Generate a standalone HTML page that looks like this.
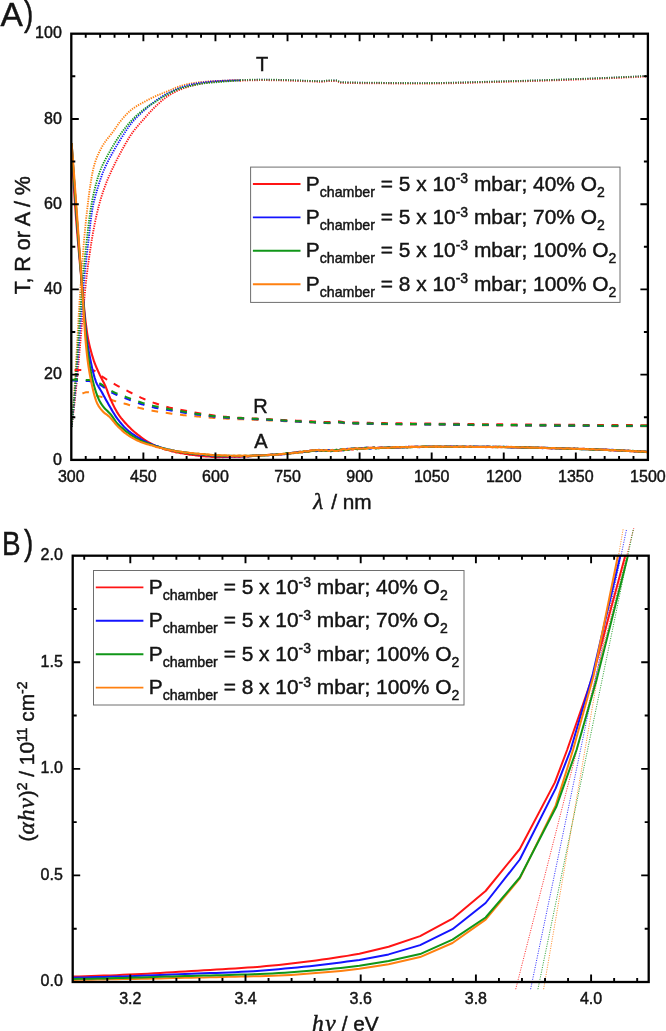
<!DOCTYPE html>
<html lang="en"><head><meta charset="utf-8"><title>Optical spectra and Tauc plot</title>
<style>html,body{margin:0;padding:0;background:#fff}body{width:666px;height:1031px;overflow:hidden}svg{display:block;will-change:transform}text{font-family:'Liberation Sans', Arial, Helvetica, sans-serif;fill:#141414;stroke:#141414;stroke-width:0.45px}.tk{font-size:16px}.lg{font-size:20.9px}.ax{font-size:20.8px}.sym{font-family:'Liberation Serif', 'DejaVu Serif', serif;font-style:italic}</style></head><body>
<svg width="666" height="1031" viewBox="0 0 666 1031">
<rect x="0" y="0" width="666" height="1031" fill="#fff"/>
<defs><clipPath id="clipA"><rect x="71.3" y="33.7" width="577.6" height="426.2"/></clipPath><clipPath id="clipB"><rect x="72.7" y="555.7" width="577" height="426.3"/></clipPath></defs>
<g id="panelA">
<g clip-path="url(#clipA)" fill="none" stroke-linejoin="round">
<path d="M71.6,427 L71.72,425.5 L71.84,423.99 L71.97,422.49 L72.09,420.99 L72.21,419.48 L72.33,417.98 L72.45,416.48 L72.57,414.97 L72.69,413.47 L72.81,411.96 L72.92,410.46 L73.04,408.96 L73.15,407.45 L73.27,405.95 L73.38,404.45 L73.49,402.94 L73.6,401.44 L73.71,399.93 L73.82,398.43 L73.93,396.92 L74.03,395.42 L74.14,393.92 L74.24,392.41 L74.34,390.91 L74.44,389.4 L74.54,387.9 L74.64,386.39 L74.73,384.89 L74.83,383.38 L74.92,381.88 L75.02,380.37 L75.11,378.87 L75.2,377.36 L75.29,375.85 L75.38,374.35 L75.47,372.84 L75.56,371.34 L75.65,369.83 L75.74,368.33 L75.82,366.82 L75.91,365.32 L76,363.81 L76.08,362.3 L76.17,360.8 L76.25,359.29 L76.33,357.79 L76.42,356.28 L76.5,354.77 L76.59,353.27 L76.67,351.76 L76.75,350.26 L76.83,348.75 L76.92,347.24 L77,345.74 L77.08,344.23 L77.17,342.73 L77.25,341.22 L77.33,339.71 L77.41,338.21 L77.5,336.7 L77.58,335.19 L77.67,333.69 L77.75,332.18 L77.83,330.68 L77.92,329.17 L78,327.66 L78.09,326.16 L78.18,324.65 L78.26,323.15 L78.35,321.64 L78.44,320.14 L78.53,318.63 L78.61,317.12 L78.7,315.62 L78.79,314.11 L78.89,312.61 L78.98,311.1 L79.07,309.6 L79.17,308.09 L79.26,306.59 L79.36,305.08 L79.45,303.58 L79.55,302.07 L79.65,300.57 L79.75,299.06 L79.85,297.56 L79.95,296.05 L80.06,294.55 L80.16,293.04 L80.26,291.54 L80.37,290.03 L80.47,288.53 L80.58,287.02 L80.69,285.52 L80.79,284.01 L80.9,282.51 L81.01,281.01 L81.11,279.5 L81.22,278 L81.33,276.49 L81.44,274.99 L81.54,273.48 L81.65,271.98 L81.75,270.47 L81.86,268.97 L81.97,267.46 L82.07,265.96 L82.18,264.46 L82.29,262.95 L82.4,261.45 L82.5,259.94 L82.62,258.44 L82.73,256.93 L82.84,255.43 L82.95,253.93 L83.07,252.42 L83.19,250.92 L83.3,249.41 L83.42,247.91 L83.55,246.41 L83.67,244.91 L83.8,243.4 L83.93,241.9 L84.06,240.4 L84.19,238.9 L84.33,237.39 L84.47,235.89 L84.6,234.39 L84.75,232.89 L84.89,231.39 L85.03,229.88 L85.18,228.38 L85.33,226.88 L85.48,225.38 L85.63,223.88 L85.78,222.38 L85.94,220.88 L86.1,219.38 L86.26,217.88 L86.42,216.38 L86.58,214.88 L86.75,213.38 L86.91,211.88 L87.08,210.38 L87.26,208.89 L87.43,207.39 L87.6,205.89 L87.78,204.39 L87.96,202.89 L88.14,201.39 L88.32,199.9 L88.51,198.4 L88.7,196.9 L88.89,195.4 L89.09,193.91 L89.29,192.41 L89.5,190.92 L89.71,189.43 L89.93,187.93 L90.15,186.44 L90.38,184.95 L90.61,183.46 L90.85,181.98 L91.1,180.49 L91.35,178.99 L91.6,177.5 L91.87,176.01 L92.14,174.51 L92.42,173.02 L92.72,171.54 L93.04,170.06 L93.37,168.6 L93.72,167.14 L94.09,165.69 L94.48,164.26 L94.91,162.82 L95.38,161.39 L95.89,159.97 L96.43,158.55 L96.99,157.13 L97.59,155.73 L98.21,154.33 L98.85,152.95 L99.51,151.58 L100.19,150.22 L100.88,148.89 L101.58,147.56 L102.29,146.26 L103.04,144.99 L103.84,143.73 L104.68,142.49 L105.55,141.27 L106.46,140.06 L107.39,138.86 L108.33,137.67 L109.28,136.48 L110.23,135.29 L111.18,134.1 L112.12,132.91 L113.05,131.7 L113.95,130.49 L114.82,129.26 L115.67,128 L116.51,126.74 L117.34,125.48 L118.19,124.23 L119.07,123.01 L119.98,121.82 L120.93,120.66 L121.89,119.49 L122.87,118.33 L123.87,117.17 L124.89,116.04 L125.93,114.92 L126.99,113.82 L128.06,112.75 L129.16,111.72 L130.28,110.72 L131.41,109.77 L132.58,108.86 L133.78,107.99 L135.02,107.15 L136.3,106.35 L137.6,105.57 L138.92,104.8 L140.25,104.06 L141.58,103.32 L142.91,102.59 L144.24,101.87 L145.56,101.15 L146.89,100.44 L148.23,99.75 L149.58,99.06 L150.93,98.39 L152.29,97.73 L153.65,97.08 L155.02,96.45 L156.39,95.83 L157.77,95.22 L159.16,94.64 L160.56,94.07 L161.96,93.51 L163.36,92.95 L164.76,92.4 L166.17,91.84 L167.57,91.28 L168.96,90.7 L170.35,90.1 L171.74,89.49 L173.12,88.88 L174.51,88.27 L175.9,87.69 L177.3,87.13 L178.71,86.62 L180.14,86.16 L181.58,85.73 L183.03,85.32 L184.49,84.93 L185.95,84.55 L187.43,84.2 L188.91,83.88 L190.39,83.59 L191.87,83.32 L193.35,83.08 L194.84,82.86 L196.34,82.65 L197.83,82.45 L199.33,82.27 L200.83,82.1 L202.34,81.95 L203.84,81.81 L205.34,81.69 L206.84,81.57 L208.35,81.46 L209.85,81.36 L211.36,81.26 L212.87,81.17 L214.37,81.09 L215.88,81.01 L217.39,80.95 L218.89,80.88 L220.4,80.83 L221.91,80.77 L223.41,80.71 L224.92,80.66 L226.43,80.6 L227.93,80.56 L229.44,80.51 L230.95,80.47 L232.46,80.43 L233.97,80.39 L235.47,80.36 L236.98,80.33 L238.49,80.31 L240,80.3" stroke="#ff8010" stroke-width="1.85" stroke-dasharray="1.3 1.1"/>
<path d="M71.6,427 L71.79,425.5 L71.97,424.01 L72.16,422.51 L72.34,421.01 L72.53,419.52 L72.71,418.02 L72.89,416.52 L73.08,415.03 L73.26,413.53 L73.44,412.03 L73.62,410.54 L73.8,409.04 L73.97,407.54 L74.15,406.04 L74.32,404.55 L74.49,403.05 L74.66,401.55 L74.83,400.05 L75,398.55 L75.16,397.06 L75.33,395.56 L75.49,394.06 L75.65,392.56 L75.8,391.06 L75.96,389.56 L76.11,388.06 L76.27,386.56 L76.42,385.06 L76.57,383.56 L76.72,382.06 L76.86,380.56 L77.01,379.06 L77.16,377.56 L77.3,376.06 L77.44,374.56 L77.59,373.06 L77.73,371.56 L77.87,370.06 L78.01,368.56 L78.15,367.06 L78.29,365.55 L78.42,364.05 L78.56,362.55 L78.7,361.05 L78.83,359.55 L78.97,358.05 L79.1,356.54 L79.24,355.04 L79.37,353.54 L79.5,352.04 L79.64,350.54 L79.77,349.03 L79.9,347.53 L80.03,346.03 L80.17,344.53 L80.3,343.03 L80.43,341.52 L80.56,340.02 L80.69,338.52 L80.83,337.02 L80.96,335.52 L81.09,334.01 L81.22,332.51 L81.36,331.01 L81.49,329.51 L81.62,328.01 L81.76,326.5 L81.89,325 L82.03,323.5 L82.16,322 L82.3,320.5 L82.43,319 L82.57,317.49 L82.71,315.99 L82.85,314.49 L82.99,312.99 L83.13,311.49 L83.27,309.99 L83.41,308.49 L83.55,306.99 L83.7,305.49 L83.84,303.98 L83.98,302.48 L84.13,300.98 L84.27,299.48 L84.41,297.98 L84.55,296.48 L84.7,294.98 L84.84,293.48 L84.98,291.98 L85.13,290.47 L85.27,288.97 L85.42,287.47 L85.58,285.97 L85.73,284.47 L85.89,282.97 L86.05,281.48 L86.21,279.98 L86.38,278.48 L86.55,276.98 L86.73,275.49 L86.91,273.99 L87.09,272.49 L87.28,271 L87.47,269.5 L87.66,268 L87.86,266.51 L88.06,265.02 L88.26,263.52 L88.47,262.03 L88.68,260.53 L88.89,259.04 L89.1,257.55 L89.32,256.06 L89.54,254.56 L89.76,253.07 L89.98,251.58 L90.2,250.09 L90.43,248.6 L90.65,247.11 L90.89,245.62 L91.12,244.13 L91.36,242.64 L91.6,241.15 L91.84,239.66 L92.09,238.17 L92.34,236.68 L92.59,235.2 L92.85,233.71 L93.12,232.23 L93.39,230.74 L93.66,229.26 L93.94,227.78 L94.22,226.3 L94.51,224.83 L94.81,223.35 L95.11,221.87 L95.41,220.39 L95.73,218.92 L96.05,217.44 L96.37,215.96 L96.7,214.49 L97.04,213.02 L97.39,211.55 L97.75,210.09 L98.11,208.62 L98.48,207.16 L98.86,205.7 L99.24,204.25 L99.64,202.8 L100.04,201.35 L100.47,199.9 L100.9,198.46 L101.34,197.02 L101.8,195.58 L102.26,194.14 L102.74,192.71 L103.23,191.28 L103.72,189.85 L104.22,188.42 L104.74,187 L105.26,185.59 L105.78,184.18 L106.32,182.77 L106.86,181.37 L107.42,179.98 L108,178.58 L108.59,177.2 L109.19,175.82 L109.81,174.44 L110.43,173.06 L111.07,171.69 L111.71,170.32 L112.35,168.96 L113,167.6 L113.66,166.24 L114.31,164.88 L114.97,163.52 L115.63,162.17 L116.3,160.82 L116.98,159.47 L117.67,158.13 L118.36,156.79 L119.06,155.45 L119.76,154.12 L120.48,152.79 L121.2,151.46 L121.92,150.14 L122.65,148.82 L123.38,147.5 L124.12,146.18 L124.86,144.86 L125.61,143.55 L126.36,142.23 L127.12,140.93 L127.9,139.63 L128.69,138.34 L129.49,137.07 L130.3,135.8 L131.13,134.55 L131.98,133.32 L132.86,132.11 L133.76,130.91 L134.68,129.72 L135.62,128.55 L136.58,127.38 L137.56,126.23 L138.55,125.08 L139.54,123.94 L140.54,122.8 L141.55,121.67 L142.55,120.54 L143.55,119.41 L144.55,118.28 L145.54,117.15 L146.54,116.01 L147.54,114.88 L148.55,113.75 L149.56,112.63 L150.58,111.52 L151.61,110.41 L152.65,109.32 L153.71,108.24 L154.77,107.18 L155.85,106.14 L156.94,105.11 L158.05,104.08 L159.17,103.06 L160.3,102.04 L161.44,101.04 L162.6,100.05 L163.77,99.1 L164.96,98.17 L166.16,97.27 L167.39,96.41 L168.63,95.59 L169.89,94.79 L171.19,94.02 L172.5,93.26 L173.83,92.53 L175.18,91.82 L176.54,91.15 L177.91,90.51 L179.29,89.9 L180.67,89.33 L182.06,88.78 L183.48,88.25 L184.9,87.74 L186.34,87.26 L187.78,86.8 L189.23,86.36 L190.68,85.95 L192.13,85.57 L193.59,85.2 L195.06,84.85 L196.53,84.51 L198.01,84.19 L199.49,83.89 L200.97,83.61 L202.46,83.35 L203.94,83.11 L205.43,82.89 L206.92,82.67 L208.42,82.47 L209.91,82.27 L211.41,82.09 L212.91,81.92 L214.41,81.76 L215.92,81.61 L217.42,81.48 L218.92,81.37 L220.42,81.26 L221.92,81.15 L223.43,81.05 L224.93,80.95 L226.43,80.85 L227.94,80.76 L229.44,80.68 L230.95,80.6 L232.46,80.52 L233.96,80.46 L235.47,80.4 L236.98,80.36 L238.49,80.32 L240,80.3" stroke="#ff1414" stroke-width="1.85" stroke-dasharray="1.3 1.1"/>
<path d="M71.6,427 L71.76,425.5 L71.92,424 L72.07,422.5 L72.23,421 L72.39,419.51 L72.54,418.01 L72.7,416.51 L72.85,415.01 L73.01,413.51 L73.16,412.01 L73.31,410.51 L73.46,409.01 L73.61,407.51 L73.76,406.01 L73.91,404.51 L74.06,403.01 L74.2,401.51 L74.35,400.01 L74.49,398.51 L74.63,397.01 L74.77,395.51 L74.91,394.01 L75.04,392.51 L75.18,391.01 L75.31,389.51 L75.45,388.01 L75.58,386.51 L75.71,385.01 L75.84,383.51 L75.97,382 L76.09,380.5 L76.22,379 L76.35,377.5 L76.47,376 L76.59,374.5 L76.72,373 L76.84,371.49 L76.96,369.99 L77.08,368.49 L77.21,366.99 L77.33,365.49 L77.45,363.98 L77.56,362.48 L77.68,360.98 L77.8,359.48 L77.92,357.97 L78.04,356.47 L78.15,354.97 L78.27,353.47 L78.39,351.96 L78.5,350.46 L78.62,348.96 L78.73,347.46 L78.85,345.95 L78.96,344.45 L79.08,342.95 L79.19,341.45 L79.31,339.94 L79.42,338.44 L79.54,336.94 L79.65,335.43 L79.77,333.93 L79.88,332.43 L80,330.93 L80.12,329.42 L80.23,327.92 L80.35,326.42 L80.46,324.92 L80.58,323.41 L80.7,321.91 L80.82,320.41 L80.93,318.91 L81.05,317.4 L81.17,315.9 L81.29,314.4 L81.41,312.9 L81.53,311.4 L81.65,309.89 L81.77,308.39 L81.9,306.89 L82.02,305.39 L82.14,303.89 L82.27,302.38 L82.39,300.88 L82.51,299.38 L82.63,297.88 L82.75,296.37 L82.87,294.87 L82.99,293.37 L83.12,291.87 L83.24,290.37 L83.36,288.86 L83.49,287.36 L83.62,285.86 L83.75,284.36 L83.88,282.86 L84.02,281.36 L84.15,279.86 L84.29,278.36 L84.44,276.86 L84.59,275.36 L84.74,273.86 L84.89,272.36 L85.05,270.86 L85.21,269.36 L85.37,267.87 L85.53,266.37 L85.7,264.87 L85.87,263.37 L86.04,261.88 L86.21,260.38 L86.38,258.88 L86.56,257.38 L86.73,255.89 L86.91,254.39 L87.08,252.89 L87.26,251.4 L87.43,249.9 L87.61,248.4 L87.79,246.91 L87.96,245.41 L88.14,243.91 L88.31,242.42 L88.49,240.92 L88.65,239.42 L88.82,237.92 L88.98,236.42 L89.14,234.92 L89.3,233.41 L89.46,231.91 L89.63,230.41 L89.79,228.91 L89.95,227.41 L90.12,225.91 L90.29,224.41 L90.47,222.91 L90.65,221.41 L90.83,219.91 L91.02,218.42 L91.22,216.93 L91.43,215.44 L91.64,213.95 L91.86,212.46 L92.09,210.98 L92.33,209.5 L92.58,208.02 L92.86,206.55 L93.15,205.07 L93.47,203.6 L93.8,202.13 L94.16,200.67 L94.52,199.2 L94.91,197.74 L95.3,196.28 L95.7,194.82 L96.12,193.37 L96.53,191.92 L96.96,190.47 L97.38,189.02 L97.81,187.58 L98.24,186.14 L98.68,184.7 L99.13,183.26 L99.6,181.82 L100.07,180.39 L100.56,178.95 L101.06,177.53 L101.57,176.11 L102.09,174.69 L102.63,173.28 L103.18,171.88 L103.74,170.49 L104.32,169.11 L104.91,167.73 L105.53,166.36 L106.17,165 L106.83,163.64 L107.5,162.29 L108.19,160.94 L108.88,159.6 L109.59,158.26 L110.3,156.93 L111.02,155.6 L111.74,154.28 L112.46,152.95 L113.19,151.64 L113.92,150.32 L114.67,149.01 L115.42,147.71 L116.18,146.41 L116.96,145.11 L117.73,143.82 L118.52,142.53 L119.31,141.25 L120.11,139.97 L120.92,138.69 L121.73,137.43 L122.54,136.16 L123.35,134.88 L124.17,133.61 L124.99,132.34 L125.81,131.06 L126.65,129.8 L127.5,128.55 L128.36,127.31 L129.23,126.08 L130.13,124.87 L131.04,123.69 L131.98,122.53 L132.94,121.39 L133.94,120.27 L134.96,119.17 L136,118.08 L137.06,117 L138.15,115.94 L139.24,114.89 L140.34,113.85 L141.45,112.82 L142.57,111.8 L143.68,110.79 L144.8,109.78 L145.92,108.77 L147.05,107.77 L148.19,106.78 L149.34,105.8 L150.5,104.83 L151.68,103.88 L152.86,102.94 L154.05,102.03 L155.26,101.13 L156.48,100.26 L157.71,99.41 L158.96,98.57 L160.23,97.74 L161.51,96.93 L162.8,96.13 L164.1,95.36 L165.41,94.61 L166.72,93.88 L168.05,93.18 L169.38,92.49 L170.73,91.81 L172.09,91.15 L173.46,90.5 L174.83,89.87 L176.22,89.27 L177.62,88.7 L179.02,88.16 L180.43,87.65 L181.85,87.16 L183.28,86.68 L184.72,86.22 L186.17,85.79 L187.62,85.37 L189.08,84.99 L190.55,84.63 L192.01,84.3 L193.48,83.99 L194.96,83.7 L196.44,83.43 L197.93,83.17 L199.42,82.93 L200.92,82.7 L202.41,82.5 L203.9,82.31 L205.4,82.14 L206.9,81.97 L208.39,81.81 L209.89,81.66 L211.4,81.51 L212.9,81.38 L214.4,81.26 L215.91,81.15 L217.41,81.06 L218.91,80.98 L220.42,80.91 L221.92,80.83 L223.43,80.76 L224.93,80.69 L226.43,80.63 L227.94,80.57 L229.45,80.51 L230.95,80.46 L232.46,80.41 L233.97,80.37 L235.47,80.34 L236.98,80.32 L238.49,80.3 L240,80.3" stroke="#1414ff" stroke-width="1.85" stroke-dasharray="1.3 1.1"/>
<path d="M71.6,427 L71.74,425.5 L71.88,424 L72.02,422.5 L72.16,421 L72.3,419.5 L72.43,418 L72.57,416.5 L72.71,415 L72.84,413.5 L72.98,412 L73.11,410.5 L73.25,409 L73.38,407.5 L73.51,405.99 L73.64,404.49 L73.77,402.99 L73.9,401.49 L74.03,399.99 L74.15,398.49 L74.28,396.99 L74.4,395.49 L74.52,393.98 L74.64,392.48 L74.76,390.98 L74.88,389.48 L74.99,387.98 L75.11,386.48 L75.22,384.97 L75.33,383.47 L75.44,381.97 L75.56,380.47 L75.67,378.96 L75.77,377.46 L75.88,375.96 L75.99,374.46 L76.1,372.95 L76.2,371.45 L76.31,369.95 L76.41,368.45 L76.51,366.94 L76.62,365.44 L76.72,363.94 L76.82,362.43 L76.92,360.93 L77.03,359.43 L77.13,357.92 L77.23,356.42 L77.33,354.92 L77.43,353.41 L77.53,351.91 L77.63,350.41 L77.73,348.9 L77.83,347.4 L77.93,345.9 L78.02,344.39 L78.12,342.89 L78.22,341.39 L78.32,339.88 L78.42,338.38 L78.52,336.88 L78.62,335.37 L78.72,333.87 L78.82,332.37 L78.92,330.86 L79.03,329.36 L79.13,327.86 L79.23,326.35 L79.33,324.85 L79.44,323.35 L79.54,321.85 L79.64,320.34 L79.75,318.84 L79.85,317.34 L79.96,315.83 L80.07,314.33 L80.18,312.83 L80.29,311.33 L80.4,309.82 L80.51,308.32 L80.62,306.82 L80.73,305.32 L80.84,303.81 L80.96,302.31 L81.07,300.81 L81.19,299.31 L81.3,297.81 L81.42,296.3 L81.54,294.8 L81.65,293.3 L81.77,291.8 L81.89,290.29 L82.01,288.79 L82.13,287.29 L82.26,285.79 L82.38,284.29 L82.51,282.79 L82.64,281.29 L82.77,279.79 L82.9,278.29 L83.04,276.79 L83.17,275.28 L83.31,273.78 L83.45,272.28 L83.59,270.78 L83.73,269.28 L83.87,267.78 L84.01,266.28 L84.16,264.78 L84.31,263.29 L84.46,261.79 L84.61,260.29 L84.76,258.79 L84.91,257.29 L85.07,255.79 L85.22,254.29 L85.38,252.79 L85.54,251.29 L85.7,249.8 L85.86,248.3 L86.02,246.8 L86.19,245.3 L86.35,243.81 L86.52,242.31 L86.69,240.81 L86.86,239.32 L87.02,237.82 L87.19,236.32 L87.36,234.82 L87.53,233.32 L87.7,231.82 L87.87,230.33 L88.05,228.83 L88.23,227.33 L88.41,225.83 L88.59,224.34 L88.78,222.84 L88.97,221.35 L89.16,219.85 L89.36,218.36 L89.56,216.87 L89.77,215.37 L89.98,213.88 L90.2,212.4 L90.42,210.91 L90.65,209.42 L90.89,207.94 L91.14,206.45 L91.39,204.97 L91.66,203.49 L91.94,202 L92.22,200.52 L92.52,199.04 L92.82,197.56 L93.14,196.09 L93.46,194.61 L93.79,193.14 L94.12,191.67 L94.47,190.21 L94.82,188.74 L95.18,187.29 L95.55,185.83 L95.92,184.37 L96.31,182.91 L96.71,181.45 L97.13,179.99 L97.56,178.54 L98,177.09 L98.46,175.65 L98.93,174.22 L99.42,172.8 L99.92,171.39 L100.44,169.99 L100.99,168.6 L101.57,167.22 L102.19,165.85 L102.82,164.49 L103.49,163.13 L104.17,161.78 L104.87,160.44 L105.58,159.1 L106.3,157.77 L107.03,156.44 L107.76,155.12 L108.49,153.8 L109.22,152.48 L109.95,151.17 L110.69,149.86 L111.44,148.55 L112.2,147.24 L112.97,145.94 L113.74,144.64 L114.53,143.35 L115.32,142.07 L116.13,140.79 L116.94,139.52 L117.77,138.26 L118.6,137.01 L119.45,135.77 L120.3,134.54 L121.17,133.31 L122.05,132.09 L122.95,130.88 L123.86,129.67 L124.78,128.46 L125.71,127.27 L126.66,126.09 L127.62,124.92 L128.6,123.77 L129.59,122.63 L130.59,121.51 L131.61,120.42 L132.64,119.34 L133.69,118.27 L134.77,117.22 L135.86,116.18 L136.98,115.15 L138.1,114.14 L139.25,113.14 L140.4,112.17 L141.57,111.21 L142.75,110.27 L143.93,109.35 L145.13,108.46 L146.36,107.59 L147.6,106.74 L148.86,105.91 L150.13,105.09 L151.4,104.28 L152.69,103.48 L153.97,102.68 L155.25,101.88 L156.52,101.07 L157.78,100.25 L159.05,99.43 L160.32,98.61 L161.59,97.79 L162.87,96.99 L164.15,96.19 L165.44,95.42 L166.75,94.68 L168.07,93.97 L169.4,93.26 L170.74,92.57 L172.09,91.88 L173.45,91.21 L174.82,90.56 L176.2,89.95 L177.59,89.37 L178.99,88.84 L180.41,88.37 L181.84,87.93 L183.28,87.53 L184.74,87.14 L186.21,86.78 L187.68,86.44 L189.16,86.11 L190.64,85.79 L192.11,85.48 L193.59,85.16 L195.06,84.85 L196.54,84.55 L198.02,84.26 L199.51,83.99 L200.99,83.73 L202.48,83.5 L203.97,83.3 L205.46,83.13 L206.96,82.97 L208.46,82.83 L209.96,82.69 L211.46,82.57 L212.96,82.44 L214.47,82.32 L215.97,82.21 L217.47,82.09 L218.97,81.96 L220.48,81.83 L221.98,81.71 L223.48,81.59 L224.98,81.46 L226.48,81.34 L227.98,81.22 L229.48,81.1 L230.99,80.98 L232.49,80.86 L233.99,80.75 L235.49,80.63 L236.99,80.52 L238.5,80.41 L240,80.3" stroke="#109618" stroke-width="1.85" stroke-dasharray="1.3 1.1"/>
<path d="M240,80.3 L241.51,80.23 L243.01,80.16 L244.52,80.1 L246.03,80.04 L247.53,79.98 L249.04,79.93 L250.55,79.89 L252.05,79.85 L253.56,79.81 L255.07,79.78 L256.57,79.75 L258.08,79.73 L259.58,79.71 L261.09,79.7 L262.6,79.7 L264.11,79.7 L265.61,79.71 L267.12,79.72 L268.63,79.74 L270.13,79.76 L271.64,79.79 L273.15,79.82 L274.65,79.85 L276.16,79.88 L277.67,79.92 L279.17,79.96 L280.68,79.99 L282.19,80.03 L283.69,80.07 L285.2,80.1 L286.71,80.14 L288.21,80.19 L289.72,80.23 L291.23,80.28 L292.73,80.34 L294.24,80.39 L295.74,80.45 L297.25,80.51 L298.76,80.57 L300.26,80.62 L301.77,80.68 L303.27,80.74 L304.78,80.79 L306.29,80.84 L307.79,80.89 L309.3,80.94 L310.81,81 L312.32,81.05 L313.82,81.11 L315.33,81.17 L316.84,81.21 L318.35,81.25 L319.85,81.28 L321.35,81.3 L322.85,81.26 L324.35,81.08 L325.84,80.83 L327.34,80.64 L328.85,80.58 L330.36,80.55 L331.89,80.53 L333.4,80.51 L334.9,80.5 L336.37,80.53 L337.79,81 L339.19,81.73 L340.6,82.26 L342.05,82.34 L343.52,82.39 L344.98,82.44 L346.46,82.48 L347.94,82.52 L349.43,82.56 L350.93,82.59 L352.43,82.62 L353.93,82.65 L355.44,82.67 L356.95,82.7 L358.47,82.72 L359.99,82.73 L361.51,82.75 L363.03,82.76 L364.56,82.78 L366.08,82.79 L367.61,82.8 L369.14,82.81 L370.66,82.82 L372.18,82.84 L373.71,82.85 L375.23,82.86 L376.74,82.87 L378.26,82.88 L379.77,82.9 L381.27,82.91 L382.78,82.93 L384.29,82.94 L385.79,82.96 L387.3,82.98 L388.81,82.99 L390.32,83.01 L391.82,83.02 L393.33,83.04 L394.84,83.05 L396.34,83.07 L397.85,83.08 L399.36,83.09 L400.86,83.11 L402.37,83.12 L403.88,83.13 L405.39,83.14 L406.89,83.15 L408.4,83.16 L409.91,83.17 L411.41,83.18 L412.92,83.19 L414.43,83.19 L415.94,83.2 L417.44,83.2 L418.95,83.2 L420.46,83.2 L421.96,83.2 L423.47,83.19 L424.98,83.19 L426.48,83.18 L427.99,83.17 L429.5,83.16 L431,83.15 L432.51,83.13 L434.02,83.11 L435.52,83.09 L437.03,83.07 L438.54,83.05 L440.05,83.03 L441.55,83 L443.06,82.98 L444.57,82.95 L446.07,82.92 L447.58,82.89 L449.09,82.86 L450.59,82.83 L452.1,82.79 L453.61,82.76 L455.11,82.72 L456.62,82.69 L458.13,82.65 L459.63,82.61 L461.14,82.57 L462.65,82.53 L464.15,82.49 L465.66,82.45 L467.17,82.41 L468.67,82.37 L470.18,82.33 L471.69,82.29 L473.19,82.24 L474.7,82.2 L476.21,82.16 L477.71,82.12 L479.22,82.07 L480.73,82.03 L482.23,81.99 L483.74,81.94 L485.25,81.9 L486.75,81.86 L488.26,81.82 L489.77,81.77 L491.27,81.73 L492.78,81.69 L494.29,81.65 L495.79,81.61 L497.3,81.57 L498.81,81.53 L500.31,81.49 L501.82,81.45 L503.33,81.41 L504.83,81.38 L506.34,81.34 L507.85,81.3 L509.35,81.26 L510.86,81.22 L512.36,81.18 L513.87,81.13 L515.38,81.09 L516.88,81.05 L518.39,81.01 L519.9,80.97 L521.4,80.92 L522.91,80.88 L524.42,80.84 L525.92,80.79 L527.43,80.75 L528.94,80.7 L530.44,80.66 L531.95,80.61 L533.46,80.57 L534.96,80.52 L536.47,80.47 L537.97,80.43 L539.48,80.38 L540.99,80.33 L542.49,80.29 L544,80.24 L545.51,80.19 L547.01,80.14 L548.52,80.09 L550.03,80.04 L551.53,79.99 L553.04,79.94 L554.54,79.89 L556.05,79.84 L557.56,79.79 L559.06,79.74 L560.57,79.69 L562.08,79.64 L563.58,79.59 L565.09,79.53 L566.59,79.48 L568.1,79.43 L569.61,79.38 L571.11,79.32 L572.62,79.27 L574.12,79.21 L575.63,79.16 L577.14,79.1 L578.64,79.05 L580.15,78.99 L581.65,78.94 L583.16,78.88 L584.67,78.83 L586.17,78.77 L587.68,78.71 L589.18,78.65 L590.69,78.59 L592.2,78.53 L593.7,78.47 L595.21,78.41 L596.71,78.35 L598.22,78.29 L599.72,78.23 L601.23,78.16 L602.74,78.1 L604.24,78.04 L605.75,77.97 L607.25,77.91 L608.76,77.84 L610.26,77.78 L611.77,77.71 L613.28,77.64 L614.78,77.58 L616.29,77.51 L617.79,77.44 L619.3,77.37 L620.8,77.3 L622.31,77.23 L623.81,77.16 L625.32,77.09 L626.82,77.02 L628.33,76.95 L629.84,76.88 L631.34,76.81 L632.85,76.74 L634.35,76.67 L635.86,76.59 L637.36,76.52 L638.87,76.45 L640.37,76.37 L641.88,76.3 L643.38,76.22 L644.89,76.15 L646.39,76.08 L647.9,76" transform="translate(0 0.1)" stroke="#ff8010" stroke-width="1.8" stroke-dasharray="0.85 1.55"/>
<path d="M240,80.3 L241.51,80.23 L243.01,80.16 L244.52,80.1 L246.03,80.04 L247.53,79.98 L249.04,79.93 L250.55,79.89 L252.05,79.85 L253.56,79.81 L255.07,79.78 L256.57,79.75 L258.08,79.73 L259.58,79.71 L261.09,79.7 L262.6,79.7 L264.11,79.7 L265.61,79.71 L267.12,79.72 L268.63,79.74 L270.13,79.76 L271.64,79.79 L273.15,79.82 L274.65,79.85 L276.16,79.88 L277.67,79.92 L279.17,79.96 L280.68,79.99 L282.19,80.03 L283.69,80.07 L285.2,80.1 L286.71,80.14 L288.21,80.19 L289.72,80.23 L291.23,80.28 L292.73,80.34 L294.24,80.39 L295.74,80.45 L297.25,80.51 L298.76,80.57 L300.26,80.62 L301.77,80.68 L303.27,80.74 L304.78,80.79 L306.29,80.84 L307.79,80.89 L309.3,80.94 L310.81,81 L312.32,81.05 L313.82,81.11 L315.33,81.17 L316.84,81.21 L318.35,81.25 L319.85,81.28 L321.35,81.3 L322.85,81.26 L324.35,81.08 L325.84,80.83 L327.34,80.64 L328.85,80.58 L330.36,80.55 L331.89,80.53 L333.4,80.51 L334.9,80.5 L336.37,80.53 L337.79,81 L339.19,81.73 L340.6,82.26 L342.05,82.34 L343.52,82.39 L344.98,82.44 L346.46,82.48 L347.94,82.52 L349.43,82.56 L350.93,82.59 L352.43,82.62 L353.93,82.65 L355.44,82.67 L356.95,82.7 L358.47,82.72 L359.99,82.73 L361.51,82.75 L363.03,82.76 L364.56,82.78 L366.08,82.79 L367.61,82.8 L369.14,82.81 L370.66,82.82 L372.18,82.84 L373.71,82.85 L375.23,82.86 L376.74,82.87 L378.26,82.88 L379.77,82.9 L381.27,82.91 L382.78,82.93 L384.29,82.94 L385.79,82.96 L387.3,82.98 L388.81,82.99 L390.32,83.01 L391.82,83.02 L393.33,83.04 L394.84,83.05 L396.34,83.07 L397.85,83.08 L399.36,83.09 L400.86,83.11 L402.37,83.12 L403.88,83.13 L405.39,83.14 L406.89,83.15 L408.4,83.16 L409.91,83.17 L411.41,83.18 L412.92,83.19 L414.43,83.19 L415.94,83.2 L417.44,83.2 L418.95,83.2 L420.46,83.2 L421.96,83.2 L423.47,83.19 L424.98,83.19 L426.48,83.18 L427.99,83.17 L429.5,83.16 L431,83.15 L432.51,83.13 L434.02,83.11 L435.52,83.09 L437.03,83.07 L438.54,83.05 L440.05,83.03 L441.55,83 L443.06,82.98 L444.57,82.95 L446.07,82.92 L447.58,82.89 L449.09,82.86 L450.59,82.83 L452.1,82.79 L453.61,82.76 L455.11,82.72 L456.62,82.69 L458.13,82.65 L459.63,82.61 L461.14,82.57 L462.65,82.53 L464.15,82.49 L465.66,82.45 L467.17,82.41 L468.67,82.37 L470.18,82.33 L471.69,82.29 L473.19,82.24 L474.7,82.2 L476.21,82.16 L477.71,82.12 L479.22,82.07 L480.73,82.03 L482.23,81.99 L483.74,81.94 L485.25,81.9 L486.75,81.86 L488.26,81.82 L489.77,81.77 L491.27,81.73 L492.78,81.69 L494.29,81.65 L495.79,81.61 L497.3,81.57 L498.81,81.53 L500.31,81.49 L501.82,81.45 L503.33,81.41 L504.83,81.38 L506.34,81.34 L507.85,81.3 L509.35,81.26 L510.86,81.22 L512.36,81.18 L513.87,81.13 L515.38,81.09 L516.88,81.05 L518.39,81.01 L519.9,80.97 L521.4,80.92 L522.91,80.88 L524.42,80.84 L525.92,80.79 L527.43,80.75 L528.94,80.7 L530.44,80.66 L531.95,80.61 L533.46,80.57 L534.96,80.52 L536.47,80.47 L537.97,80.43 L539.48,80.38 L540.99,80.33 L542.49,80.29 L544,80.24 L545.51,80.19 L547.01,80.14 L548.52,80.09 L550.03,80.04 L551.53,79.99 L553.04,79.94 L554.54,79.89 L556.05,79.84 L557.56,79.79 L559.06,79.74 L560.57,79.69 L562.08,79.64 L563.58,79.59 L565.09,79.53 L566.59,79.48 L568.1,79.43 L569.61,79.38 L571.11,79.32 L572.62,79.27 L574.12,79.21 L575.63,79.16 L577.14,79.1 L578.64,79.05 L580.15,78.99 L581.65,78.94 L583.16,78.88 L584.67,78.83 L586.17,78.77 L587.68,78.71 L589.18,78.65 L590.69,78.59 L592.2,78.53 L593.7,78.47 L595.21,78.41 L596.71,78.35 L598.22,78.29 L599.72,78.23 L601.23,78.16 L602.74,78.1 L604.24,78.04 L605.75,77.97 L607.25,77.91 L608.76,77.84 L610.26,77.78 L611.77,77.71 L613.28,77.64 L614.78,77.58 L616.29,77.51 L617.79,77.44 L619.3,77.37 L620.8,77.3 L622.31,77.23 L623.81,77.16 L625.32,77.09 L626.82,77.02 L628.33,76.95 L629.84,76.88 L631.34,76.81 L632.85,76.74 L634.35,76.67 L635.86,76.59 L637.36,76.52 L638.87,76.45 L640.37,76.37 L641.88,76.3 L643.38,76.22 L644.89,76.15 L646.39,76.08 L647.9,76" transform="translate(0 0)" stroke="#1414ff" stroke-width="1.8" stroke-dasharray="0.85 1.55"/>
<path d="M240,80.3 L241.51,80.23 L243.01,80.16 L244.52,80.1 L246.03,80.04 L247.53,79.98 L249.04,79.93 L250.55,79.89 L252.05,79.85 L253.56,79.81 L255.07,79.78 L256.57,79.75 L258.08,79.73 L259.58,79.71 L261.09,79.7 L262.6,79.7 L264.11,79.7 L265.61,79.71 L267.12,79.72 L268.63,79.74 L270.13,79.76 L271.64,79.79 L273.15,79.82 L274.65,79.85 L276.16,79.88 L277.67,79.92 L279.17,79.96 L280.68,79.99 L282.19,80.03 L283.69,80.07 L285.2,80.1 L286.71,80.14 L288.21,80.19 L289.72,80.23 L291.23,80.28 L292.73,80.34 L294.24,80.39 L295.74,80.45 L297.25,80.51 L298.76,80.57 L300.26,80.62 L301.77,80.68 L303.27,80.74 L304.78,80.79 L306.29,80.84 L307.79,80.89 L309.3,80.94 L310.81,81 L312.32,81.05 L313.82,81.11 L315.33,81.17 L316.84,81.21 L318.35,81.25 L319.85,81.28 L321.35,81.3 L322.85,81.26 L324.35,81.08 L325.84,80.83 L327.34,80.64 L328.85,80.58 L330.36,80.55 L331.89,80.53 L333.4,80.51 L334.9,80.5 L336.37,80.53 L337.79,81 L339.19,81.73 L340.6,82.26 L342.05,82.34 L343.52,82.39 L344.98,82.44 L346.46,82.48 L347.94,82.52 L349.43,82.56 L350.93,82.59 L352.43,82.62 L353.93,82.65 L355.44,82.67 L356.95,82.7 L358.47,82.72 L359.99,82.73 L361.51,82.75 L363.03,82.76 L364.56,82.78 L366.08,82.79 L367.61,82.8 L369.14,82.81 L370.66,82.82 L372.18,82.84 L373.71,82.85 L375.23,82.86 L376.74,82.87 L378.26,82.88 L379.77,82.9 L381.27,82.91 L382.78,82.93 L384.29,82.94 L385.79,82.96 L387.3,82.98 L388.81,82.99 L390.32,83.01 L391.82,83.02 L393.33,83.04 L394.84,83.05 L396.34,83.07 L397.85,83.08 L399.36,83.09 L400.86,83.11 L402.37,83.12 L403.88,83.13 L405.39,83.14 L406.89,83.15 L408.4,83.16 L409.91,83.17 L411.41,83.18 L412.92,83.19 L414.43,83.19 L415.94,83.2 L417.44,83.2 L418.95,83.2 L420.46,83.2 L421.96,83.2 L423.47,83.19 L424.98,83.19 L426.48,83.18 L427.99,83.17 L429.5,83.16 L431,83.15 L432.51,83.13 L434.02,83.11 L435.52,83.09 L437.03,83.07 L438.54,83.05 L440.05,83.03 L441.55,83 L443.06,82.98 L444.57,82.95 L446.07,82.92 L447.58,82.89 L449.09,82.86 L450.59,82.83 L452.1,82.79 L453.61,82.76 L455.11,82.72 L456.62,82.69 L458.13,82.65 L459.63,82.61 L461.14,82.57 L462.65,82.53 L464.15,82.49 L465.66,82.45 L467.17,82.41 L468.67,82.37 L470.18,82.33 L471.69,82.29 L473.19,82.24 L474.7,82.2 L476.21,82.16 L477.71,82.12 L479.22,82.07 L480.73,82.03 L482.23,81.99 L483.74,81.94 L485.25,81.9 L486.75,81.86 L488.26,81.82 L489.77,81.77 L491.27,81.73 L492.78,81.69 L494.29,81.65 L495.79,81.61 L497.3,81.57 L498.81,81.53 L500.31,81.49 L501.82,81.45 L503.33,81.41 L504.83,81.38 L506.34,81.34 L507.85,81.3 L509.35,81.26 L510.86,81.22 L512.36,81.18 L513.87,81.13 L515.38,81.09 L516.88,81.05 L518.39,81.01 L519.9,80.97 L521.4,80.92 L522.91,80.88 L524.42,80.84 L525.92,80.79 L527.43,80.75 L528.94,80.7 L530.44,80.66 L531.95,80.61 L533.46,80.57 L534.96,80.52 L536.47,80.47 L537.97,80.43 L539.48,80.38 L540.99,80.33 L542.49,80.29 L544,80.24 L545.51,80.19 L547.01,80.14 L548.52,80.09 L550.03,80.04 L551.53,79.99 L553.04,79.94 L554.54,79.89 L556.05,79.84 L557.56,79.79 L559.06,79.74 L560.57,79.69 L562.08,79.64 L563.58,79.59 L565.09,79.53 L566.59,79.48 L568.1,79.43 L569.61,79.38 L571.11,79.32 L572.62,79.27 L574.12,79.21 L575.63,79.16 L577.14,79.1 L578.64,79.05 L580.15,78.99 L581.65,78.94 L583.16,78.88 L584.67,78.83 L586.17,78.77 L587.68,78.71 L589.18,78.65 L590.69,78.59 L592.2,78.53 L593.7,78.47 L595.21,78.41 L596.71,78.35 L598.22,78.29 L599.72,78.23 L601.23,78.16 L602.74,78.1 L604.24,78.04 L605.75,77.97 L607.25,77.91 L608.76,77.84 L610.26,77.78 L611.77,77.71 L613.28,77.64 L614.78,77.58 L616.29,77.51 L617.79,77.44 L619.3,77.37 L620.8,77.3 L622.31,77.23 L623.81,77.16 L625.32,77.09 L626.82,77.02 L628.33,76.95 L629.84,76.88 L631.34,76.81 L632.85,76.74 L634.35,76.67 L635.86,76.59 L637.36,76.52 L638.87,76.45 L640.37,76.37 L641.88,76.3 L643.38,76.22 L644.89,76.15 L646.39,76.08 L647.9,76" transform="translate(0 0.5)" stroke="#ff1414" stroke-width="1.8" stroke-dasharray="0.85 1.55"/>
<path d="M240,80.3 L241.51,80.23 L243.01,80.16 L244.52,80.1 L246.03,80.04 L247.53,79.98 L249.04,79.93 L250.55,79.89 L252.05,79.85 L253.56,79.81 L255.07,79.78 L256.57,79.75 L258.08,79.73 L259.58,79.71 L261.09,79.7 L262.6,79.7 L264.11,79.7 L265.61,79.71 L267.12,79.72 L268.63,79.74 L270.13,79.76 L271.64,79.79 L273.15,79.82 L274.65,79.85 L276.16,79.88 L277.67,79.92 L279.17,79.96 L280.68,79.99 L282.19,80.03 L283.69,80.07 L285.2,80.1 L286.71,80.14 L288.21,80.19 L289.72,80.23 L291.23,80.28 L292.73,80.34 L294.24,80.39 L295.74,80.45 L297.25,80.51 L298.76,80.57 L300.26,80.62 L301.77,80.68 L303.27,80.74 L304.78,80.79 L306.29,80.84 L307.79,80.89 L309.3,80.94 L310.81,81 L312.32,81.05 L313.82,81.11 L315.33,81.17 L316.84,81.21 L318.35,81.25 L319.85,81.28 L321.35,81.3 L322.85,81.26 L324.35,81.08 L325.84,80.83 L327.34,80.64 L328.85,80.58 L330.36,80.55 L331.89,80.53 L333.4,80.51 L334.9,80.5 L336.37,80.53 L337.79,81 L339.19,81.73 L340.6,82.26 L342.05,82.34 L343.52,82.39 L344.98,82.44 L346.46,82.48 L347.94,82.52 L349.43,82.56 L350.93,82.59 L352.43,82.62 L353.93,82.65 L355.44,82.67 L356.95,82.7 L358.47,82.72 L359.99,82.73 L361.51,82.75 L363.03,82.76 L364.56,82.78 L366.08,82.79 L367.61,82.8 L369.14,82.81 L370.66,82.82 L372.18,82.84 L373.71,82.85 L375.23,82.86 L376.74,82.87 L378.26,82.88 L379.77,82.9 L381.27,82.91 L382.78,82.93 L384.29,82.94 L385.79,82.96 L387.3,82.98 L388.81,82.99 L390.32,83.01 L391.82,83.02 L393.33,83.04 L394.84,83.05 L396.34,83.07 L397.85,83.08 L399.36,83.09 L400.86,83.11 L402.37,83.12 L403.88,83.13 L405.39,83.14 L406.89,83.15 L408.4,83.16 L409.91,83.17 L411.41,83.18 L412.92,83.19 L414.43,83.19 L415.94,83.2 L417.44,83.2 L418.95,83.2 L420.46,83.2 L421.96,83.2 L423.47,83.19 L424.98,83.19 L426.48,83.18 L427.99,83.17 L429.5,83.16 L431,83.15 L432.51,83.13 L434.02,83.11 L435.52,83.09 L437.03,83.07 L438.54,83.05 L440.05,83.03 L441.55,83 L443.06,82.98 L444.57,82.95 L446.07,82.92 L447.58,82.89 L449.09,82.86 L450.59,82.83 L452.1,82.79 L453.61,82.76 L455.11,82.72 L456.62,82.69 L458.13,82.65 L459.63,82.61 L461.14,82.57 L462.65,82.53 L464.15,82.49 L465.66,82.45 L467.17,82.41 L468.67,82.37 L470.18,82.33 L471.69,82.29 L473.19,82.24 L474.7,82.2 L476.21,82.16 L477.71,82.12 L479.22,82.07 L480.73,82.03 L482.23,81.99 L483.74,81.94 L485.25,81.9 L486.75,81.86 L488.26,81.82 L489.77,81.77 L491.27,81.73 L492.78,81.69 L494.29,81.65 L495.79,81.61 L497.3,81.57 L498.81,81.53 L500.31,81.49 L501.82,81.45 L503.33,81.41 L504.83,81.38 L506.34,81.34 L507.85,81.3 L509.35,81.26 L510.86,81.22 L512.36,81.18 L513.87,81.13 L515.38,81.09 L516.88,81.05 L518.39,81.01 L519.9,80.97 L521.4,80.92 L522.91,80.88 L524.42,80.84 L525.92,80.79 L527.43,80.75 L528.94,80.7 L530.44,80.66 L531.95,80.61 L533.46,80.57 L534.96,80.52 L536.47,80.47 L537.97,80.43 L539.48,80.38 L540.99,80.33 L542.49,80.29 L544,80.24 L545.51,80.19 L547.01,80.14 L548.52,80.09 L550.03,80.04 L551.53,79.99 L553.04,79.94 L554.54,79.89 L556.05,79.84 L557.56,79.79 L559.06,79.74 L560.57,79.69 L562.08,79.64 L563.58,79.59 L565.09,79.53 L566.59,79.48 L568.1,79.43 L569.61,79.38 L571.11,79.32 L572.62,79.27 L574.12,79.21 L575.63,79.16 L577.14,79.1 L578.64,79.05 L580.15,78.99 L581.65,78.94 L583.16,78.88 L584.67,78.83 L586.17,78.77 L587.68,78.71 L589.18,78.65 L590.69,78.59 L592.2,78.53 L593.7,78.47 L595.21,78.41 L596.71,78.35 L598.22,78.29 L599.72,78.23 L601.23,78.16 L602.74,78.1 L604.24,78.04 L605.75,77.97 L607.25,77.91 L608.76,77.84 L610.26,77.78 L611.77,77.71 L613.28,77.64 L614.78,77.58 L616.29,77.51 L617.79,77.44 L619.3,77.37 L620.8,77.3 L622.31,77.23 L623.81,77.16 L625.32,77.09 L626.82,77.02 L628.33,76.95 L629.84,76.88 L631.34,76.81 L632.85,76.74 L634.35,76.67 L635.86,76.59 L637.36,76.52 L638.87,76.45 L640.37,76.37 L641.88,76.3 L643.38,76.22 L644.89,76.15 L646.39,76.08 L647.9,76" transform="translate(0 -0.15)" stroke="#109618" stroke-width="1.8" stroke-dasharray="0.85 1.55"/>
<path d="M80.4,394.6 L81.83,393.78 L83.26,393.11 L84.68,392.62 L86.11,392.31 L87.52,392.2 L88.94,392.34 L90.34,392.74 L91.74,393.32 L93.13,394 L94.54,394.71 L95.95,395.35 L97.37,395.85 L98.82,396.25 L100.27,396.61 L101.74,396.95 L103.21,397.28 L104.67,397.63 L106.13,398.01 L107.56,398.44 L108.98,398.93 L110.39,399.46 L111.8,399.98 L113.21,400.48 L114.65,400.92 L116.09,401.34 L117.54,401.73 L118.99,402.12 L120.44,402.5 L121.9,402.88 L123.35,403.27 L124.8,403.66 L126.24,404.07 L127.69,404.5 L129.12,404.93 L130.56,405.37 L132,405.82 L133.44,406.26 L134.88,406.69 L136.32,407.1 L137.76,407.5 L139.22,407.88 L140.67,408.23 L142.13,408.58 L143.6,408.91 L145.06,409.23 L146.54,409.55 L148.01,409.85 L149.48,410.14 L150.96,410.43 L152.44,410.7 L153.91,410.97 L155.39,411.22 L156.87,411.47 L158.35,411.7 L159.84,411.93 L161.33,412.16 L162.81,412.37 L164.3,412.59 L165.79,412.8 L167.27,413.01 L168.76,413.22 L170.25,413.44 L171.73,413.65 L173.22,413.86 L174.71,414.07 L176.2,414.27 L177.69,414.47 L179.18,414.66 L180.67,414.85 L182.16,415.02 L183.65,415.18 L185.14,415.34 L186.64,415.49 L188.13,415.63 L189.63,415.77 L191.13,415.91 L192.62,416.04 L194.12,416.18 L195.61,416.32 L197.11,416.46 L198.6,416.6 L200.1,416.74 L201.59,416.89 L203.09,417.03 L204.59,417.17 L206.08,417.3 L207.58,417.43 L209.07,417.56 L210.57,417.68 L212.07,417.79 L213.57,417.89 L215.06,417.99 L216.56,418.09 L218.06,418.19 L219.56,418.28 L221.06,418.37 L222.56,418.46 L224.06,418.54 L225.56,418.61 L227.06,418.69 L228.56,418.76 L230.06,418.83 L231.56,418.89 L233.06,418.96 L234.56,419.02 L236.06,419.08 L237.56,419.14 L239.06,419.2 L240.56,419.25 L242.07,419.31 L243.57,419.37 L245.07,419.42 L246.57,419.48 L248.07,419.53 L249.57,419.59 L251.07,419.64 L252.57,419.7 L254.07,419.76 L255.57,419.82 L257.07,419.88 L258.58,419.94 L260.08,420 L261.58,420.07 L263.08,420.13 L264.58,420.2 L266.08,420.27 L267.58,420.34 L269.08,420.41 L270.58,420.48 L272.08,420.55 L273.58,420.62 L275.08,420.69 L276.58,420.76 L278.08,420.84 L279.58,420.91 L281.08,420.98 L282.58,421.06 L284.08,421.13 L285.58,421.2 L287.08,421.27 L288.58,421.35 L290.08,421.42 L291.58,421.49 L293.08,421.56 L294.58,421.64 L296.08,421.71 L297.58,421.78 L299.08,421.85 L300.58,421.92 L302.08,421.99 L303.58,422.05 L305.08,422.12 L306.58,422.19 L308.08,422.25 L309.59,422.32 L311.09,422.4 L312.59,422.48 L314.09,422.56 L315.59,422.64 L317.09,422.72 L318.59,422.8 L320.09,422.87 L321.6,422.94 L323.1,423 L324.6,423.06 L326.1,423.1 L327.6,423.13 L329.1,423.15 L330.59,423.14 L332.09,423.03 L333.59,422.85 L335.08,422.66 L336.58,422.51 L338.07,422.45 L339.57,422.53 L341.06,422.72 L342.55,422.95 L344.04,423.18 L345.53,423.33 L347.03,423.38 L348.53,423.43 L350.02,423.48 L351.52,423.52 L353.02,423.57 L354.52,423.61 L356.01,423.65 L357.51,423.69 L359.01,423.73 L360.51,423.77 L362.01,423.8 L363.51,423.83 L365.01,423.87 L366.51,423.9 L368.01,423.93 L369.51,423.96 L371.01,423.99 L372.51,424.02 L374.01,424.04 L375.51,424.07 L377.01,424.09 L378.52,424.11 L380.02,424.14 L381.52,424.16 L383.02,424.18 L384.52,424.2 L386.03,424.22 L387.53,424.24 L389.03,424.26 L390.54,424.28 L392.04,424.29 L393.54,424.31 L395.05,424.32 L396.55,424.34 L398.05,424.36 L399.56,424.37 L401.06,424.38 L402.56,424.4 L404.07,424.41 L405.57,424.43 L407.07,424.44 L408.58,424.45 L410.08,424.47 L411.59,424.48 L413.09,424.49 L414.59,424.5 L416.1,424.52 L417.6,424.53 L419.1,424.54 L420.61,424.56 L422.11,424.57 L423.61,424.58 L425.12,424.6 L426.62,424.61 L428.12,424.62 L429.63,424.64 L431.13,424.65 L432.63,424.67 L434.13,424.68 L435.64,424.7 L437.14,424.72 L438.64,424.73 L440.14,424.75 L441.64,424.77 L443.15,424.79 L444.65,424.81 L446.15,424.82 L447.65,424.84 L449.15,424.86 L450.65,424.88 L452.16,424.89 L453.66,424.91 L455.16,424.93 L456.66,424.95 L458.16,424.97 L459.67,424.98 L461.17,425 L462.67,425.02 L464.17,425.04 L465.67,425.05 L467.17,425.07 L468.68,425.09 L470.18,425.1 L471.68,425.12 L473.18,425.14 L474.68,425.15 L476.19,425.17 L477.69,425.19 L479.19,425.2 L480.69,425.22 L482.19,425.24 L483.69,425.25 L485.2,425.27 L486.7,425.29 L488.2,425.3 L489.7,425.32 L491.2,425.33 L492.71,425.35 L494.21,425.36 L495.71,425.38 L497.21,425.39 L498.71,425.41 L500.22,425.42 L501.72,425.44 L503.22,425.45 L504.72,425.47 L506.22,425.48 L507.72,425.5 L509.23,425.51 L510.73,425.52 L512.23,425.54 L513.73,425.55 L515.23,425.56 L516.74,425.58 L518.24,425.59 L519.74,425.6 L521.24,425.61 L522.74,425.63 L524.24,425.64 L525.75,425.65 L527.25,425.66 L528.75,425.67 L530.25,425.68 L531.75,425.69 L533.26,425.7 L534.76,425.72 L536.26,425.73 L537.76,425.74 L539.26,425.75 L540.77,425.75 L542.27,425.76 L543.77,425.77 L545.27,425.78 L546.77,425.79 L548.27,425.8 L549.78,425.81 L551.28,425.82 L552.78,425.83 L554.28,425.84 L555.78,425.85 L557.29,425.86 L558.79,425.87 L560.29,425.88 L561.79,425.88 L563.29,425.89 L564.8,425.9 L566.3,425.91 L567.8,425.92 L569.3,425.93 L570.8,425.94 L572.3,425.95 L573.81,425.95 L575.31,425.96 L576.81,425.97 L578.31,425.98 L579.81,425.99 L581.32,426 L582.82,426 L584.32,426.01 L585.82,426.02 L587.32,426.03 L588.83,426.04 L590.33,426.04 L591.83,426.05 L593.33,426.06 L594.83,426.07 L596.33,426.07 L597.84,426.08 L599.34,426.09 L600.84,426.09 L602.34,426.1 L603.84,426.11 L605.35,426.11 L606.85,426.12 L608.35,426.13 L609.85,426.13 L611.35,426.14 L612.86,426.15 L614.36,426.15 L615.86,426.16 L617.36,426.16 L618.86,426.17 L620.36,426.17 L621.87,426.18 L623.37,426.18 L624.87,426.19 L626.37,426.19 L627.87,426.2 L629.38,426.2 L630.88,426.21 L632.38,426.21 L633.88,426.22 L635.38,426.22 L636.89,426.23 L638.39,426.23 L639.89,426.23 L641.39,426.24 L642.89,426.24 L644.4,426.24 L645.9,426.25 L647.4,426.25 L647.9,426.25" stroke="#ff8010" stroke-width="2.0" stroke-dasharray="6.7 7.7" stroke-dashoffset="12.08"/>
<path d="M72,369.9 L73.65,369.9 L75.28,369.91 L76.88,369.91 L78.46,369.92 L80.01,369.94 L81.54,369.95 L83.04,369.97 L84.52,370 L85.98,370.02 L87.42,370.05 L88.84,370.09 L90.23,370.13 L91.61,370.17 L92.96,370.26 L94.27,370.69 L95.53,371.44 L96.77,372.39 L98,373.46 L99.22,374.52 L100.47,375.48 L101.73,376.3 L103,377.11 L104.26,377.92 L105.53,378.73 L106.8,379.53 L108.08,380.33 L109.36,381.11 L110.64,381.89 L111.93,382.66 L113.23,383.4 L114.54,384.14 L115.85,384.87 L117.17,385.58 L118.5,386.29 L119.83,386.99 L121.16,387.69 L122.5,388.38 L123.83,389.06 L125.17,389.75 L126.51,390.44 L127.85,391.12 L129.18,391.81 L130.52,392.5 L131.85,393.2 L133.19,393.89 L134.53,394.57 L135.87,395.25 L137.21,395.92 L138.57,396.57 L139.93,397.2 L141.3,397.81 L142.67,398.41 L144.05,399 L145.44,399.58 L146.83,400.15 L148.23,400.71 L149.63,401.26 L151.04,401.79 L152.45,402.31 L153.86,402.82 L155.28,403.31 L156.7,403.8 L158.12,404.29 L159.55,404.76 L160.98,405.23 L162.42,405.68 L163.86,406.11 L165.3,406.53 L166.75,406.93 L168.2,407.3 L169.65,407.65 L171.12,407.98 L172.59,408.29 L174.06,408.59 L175.53,408.88 L177.01,409.16 L178.49,409.44 L179.97,409.71 L181.45,409.99 L182.92,410.28 L184.4,410.56 L185.87,410.85 L187.35,411.13 L188.82,411.42 L190.3,411.69 L191.78,411.97 L193.26,412.24 L194.74,412.5 L196.22,412.75 L197.7,413 L199.18,413.24 L200.66,413.48 L202.15,413.71 L203.63,413.94 L205.12,414.17 L206.6,414.39 L208.09,414.61 L209.58,414.82 L211.07,415.02 L212.55,415.23 L214.04,415.44 L215.53,415.65 L217.02,415.85 L218.51,416.05 L220,416.24 L221.49,416.42 L222.99,416.58 L224.48,416.73 L225.98,416.86 L227.47,416.97 L228.97,417.09 L230.46,417.2 L231.96,417.3 L233.46,417.4 L234.96,417.49 L236.46,417.58 L237.96,417.67 L239.46,417.76 L240.96,417.84 L242.46,417.92 L243.96,418 L245.46,418.07 L246.96,418.15 L248.46,418.22 L249.97,418.3 L251.47,418.37 L252.97,418.44 L254.47,418.52 L255.97,418.59 L257.47,418.67 L258.97,418.75 L260.47,418.83 L261.97,418.9 L263.47,418.98 L264.97,419.06 L266.47,419.14 L267.97,419.22 L269.48,419.3 L270.98,419.37 L272.48,419.45 L273.98,419.53 L275.48,419.6 L276.98,419.68 L278.48,419.76 L279.98,419.83 L281.48,419.91 L282.98,419.98 L284.48,420.05 L285.98,420.13 L287.48,420.2 L288.98,420.27 L290.48,420.34 L291.98,420.42 L293.48,420.49 L294.98,420.56 L296.48,420.63 L297.99,420.7 L299.49,420.77 L300.99,420.84 L302.49,420.9 L303.99,420.97 L305.49,421.04 L306.99,421.11 L308.49,421.17 L309.99,421.24 L311.49,421.32 L312.99,421.4 L314.5,421.48 L316,421.56 L317.5,421.64 L319,421.72 L320.5,421.79 L322.01,421.86 L323.51,421.92 L325.01,421.97 L326.51,422.01 L328.01,422.04 L329.51,422.05 L331,422.02 L332.5,421.89 L334,421.7 L335.5,421.51 L336.99,421.38 L338.49,421.36 L339.98,421.48 L341.47,421.68 L342.96,421.92 L344.46,422.13 L345.95,422.25 L347.45,422.3 L348.94,422.35 L350.44,422.39 L351.94,422.44 L353.44,422.48 L354.93,422.52 L356.43,422.56 L357.93,422.6 L359.43,422.64 L360.93,422.68 L362.43,422.71 L363.93,422.74 L365.43,422.78 L366.93,422.81 L368.43,422.84 L369.93,422.87 L371.43,422.9 L372.93,422.92 L374.44,422.95 L375.94,422.97 L377.44,423 L378.94,423.02 L380.44,423.04 L381.95,423.07 L383.45,423.09 L384.95,423.11 L386.46,423.13 L387.96,423.14 L389.46,423.16 L390.97,423.18 L392.47,423.2 L393.97,423.21 L395.48,423.23 L396.98,423.24 L398.48,423.26 L399.99,423.27 L401.49,423.29 L403,423.3 L404.5,423.32 L406,423.33 L407.51,423.34 L409.01,423.36 L410.52,423.37 L412.02,423.38 L413.53,423.4 L415.03,423.41 L416.53,423.42 L418.04,423.43 L419.54,423.45 L421.05,423.46 L422.55,423.47 L424.05,423.49 L425.56,423.5 L427.06,423.51 L428.56,423.53 L430.07,423.54 L431.57,423.56 L433.07,423.57 L434.58,423.59 L436.08,423.6 L437.58,423.62 L439.08,423.64 L440.59,423.66 L442.09,423.68 L443.59,423.69 L445.09,423.71 L446.59,423.73 L448.1,423.75 L449.6,423.76 L451.1,423.78 L452.6,423.8 L454.11,423.82 L455.61,423.84 L457.11,423.85 L458.61,423.87 L460.11,423.89 L461.62,423.91 L463.12,423.92 L464.62,423.94 L466.12,423.96 L467.63,423.98 L469.13,423.99 L470.63,424.01 L472.13,424.03 L473.63,424.04 L475.14,424.06 L476.64,424.08 L478.14,424.09 L479.64,424.11 L481.15,424.13 L482.65,424.14 L484.15,424.16 L485.65,424.17 L487.15,424.19 L488.66,424.21 L490.16,424.22 L491.66,424.24 L493.16,424.25 L494.67,424.27 L496.17,424.28 L497.67,424.3 L499.17,424.31 L500.67,424.33 L502.18,424.34 L503.68,424.36 L505.18,424.37 L506.68,424.39 L508.19,424.4 L509.69,424.41 L511.19,424.43 L512.69,424.44 L514.2,424.45 L515.7,424.47 L517.2,424.48 L518.7,424.49 L520.2,424.5 L521.71,424.52 L523.21,424.53 L524.71,424.54 L526.21,424.55 L527.72,424.56 L529.22,424.58 L530.72,424.59 L532.22,424.6 L533.72,424.61 L535.23,424.62 L536.73,424.63 L538.23,424.64 L539.73,424.65 L541.24,424.66 L542.74,424.67 L544.24,424.68 L545.74,424.69 L547.25,424.7 L548.75,424.71 L550.25,424.71 L551.75,424.72 L553.25,424.73 L554.76,424.74 L556.26,424.75 L557.76,424.76 L559.26,424.77 L560.77,424.78 L562.27,424.79 L563.77,424.8 L565.27,424.81 L566.78,424.81 L568.28,424.82 L569.78,424.83 L571.28,424.84 L572.78,424.85 L574.29,424.86 L575.79,424.87 L577.29,424.87 L578.79,424.88 L580.3,424.89 L581.8,424.9 L583.3,424.91 L584.8,424.91 L586.3,424.92 L587.81,424.93 L589.31,424.94 L590.81,424.95 L592.31,424.95 L593.82,424.96 L595.32,424.97 L596.82,424.97 L598.32,424.98 L599.83,424.99 L601.33,425 L602.83,425 L604.33,425.01 L605.83,425.02 L607.34,425.02 L608.84,425.03 L610.34,425.04 L611.84,425.04 L613.35,425.05 L614.85,425.05 L616.35,425.06 L617.85,425.06 L619.36,425.07 L620.86,425.08 L622.36,425.08 L623.86,425.09 L625.37,425.09 L626.87,425.1 L628.37,425.1 L629.87,425.11 L631.37,425.11 L632.88,425.11 L634.38,425.12 L635.88,425.12 L637.38,425.13 L638.89,425.13 L640.39,425.13 L641.89,425.14 L643.39,425.14 L644.9,425.14 L646.4,425.15 L647.9,425.15 L647.9,425.15" stroke="#ff1414" stroke-width="2.0" stroke-dasharray="6.7 7.7" stroke-dashoffset="11.8"/>
<path d="M72,380.6 L73.62,380.6 L75.22,380.61 L76.8,380.63 L78.36,380.66 L79.91,380.69 L81.43,380.73 L82.94,380.78 L84.43,380.83 L85.9,380.9 L87.36,380.97 L88.8,381.05 L90.23,381.14 L91.65,381.24 L93.05,381.35 L94.44,381.55 L95.79,382.06 L97.11,382.81 L98.42,383.7 L99.71,384.6 L101,385.42 L102.28,386.21 L103.54,387.04 L104.78,387.89 L106.02,388.76 L107.26,389.62 L108.5,390.47 L109.76,391.3 L111.03,392.08 L112.33,392.81 L113.65,393.48 L115,394.11 L116.37,394.72 L117.75,395.31 L119.15,395.87 L120.55,396.43 L121.96,396.97 L123.37,397.51 L124.78,398.05 L126.18,398.59 L127.58,399.14 L128.98,399.69 L130.38,400.24 L131.78,400.78 L133.18,401.32 L134.59,401.85 L136,402.36 L137.42,402.85 L138.84,403.33 L140.27,403.78 L141.7,404.22 L143.14,404.65 L144.59,405.07 L146.03,405.48 L147.48,405.88 L148.94,406.26 L150.4,406.63 L151.86,406.98 L153.32,407.32 L154.78,407.65 L156.25,407.96 L157.72,408.25 L159.19,408.54 L160.67,408.81 L162.15,409.08 L163.63,409.34 L165.11,409.6 L166.59,409.85 L168.07,410.11 L169.55,410.37 L171.03,410.62 L172.51,410.87 L173.99,411.12 L175.48,411.36 L176.96,411.6 L178.44,411.84 L179.92,412.08 L181.41,412.31 L182.89,412.54 L184.38,412.76 L185.86,412.99 L187.35,413.21 L188.83,413.43 L190.32,413.64 L191.81,413.85 L193.29,414.06 L194.78,414.27 L196.27,414.47 L197.76,414.67 L199.25,414.87 L200.74,415.07 L202.23,415.26 L203.72,415.45 L205.21,415.64 L206.7,415.83 L208.19,416 L209.68,416.17 L211.17,416.33 L212.67,416.48 L214.16,416.64 L215.65,416.78 L217.15,416.93 L218.65,417.07 L220.14,417.2 L221.64,417.32 L223.14,417.44 L224.63,417.55 L226.13,417.66 L227.63,417.75 L229.13,417.85 L230.63,417.94 L232.12,418.03 L233.62,418.11 L235.12,418.19 L236.62,418.27 L238.12,418.34 L239.62,418.42 L241.12,418.49 L242.62,418.56 L244.12,418.63 L245.62,418.7 L247.12,418.77 L248.63,418.84 L250.13,418.91 L251.63,418.98 L253.13,419.05 L254.63,419.13 L256.13,419.2 L257.63,419.28 L259.13,419.35 L260.63,419.43 L262.13,419.51 L263.63,419.6 L265.13,419.68 L266.62,419.76 L268.12,419.85 L269.62,419.93 L271.12,420.02 L272.62,420.11 L274.12,420.19 L275.62,420.28 L277.12,420.37 L278.62,420.46 L280.12,420.54 L281.62,420.63 L283.12,420.72 L284.62,420.8 L286.12,420.89 L287.62,420.98 L289.12,421.06 L290.61,421.15 L292.11,421.23 L293.61,421.31 L295.11,421.4 L296.61,421.48 L298.11,421.56 L299.61,421.64 L301.11,421.71 L302.61,421.79 L304.11,421.86 L305.61,421.94 L307.11,422.01 L308.61,422.08 L310.11,422.15 L311.61,422.23 L313.11,422.31 L314.61,422.39 L316.12,422.48 L317.62,422.56 L319.12,422.63 L320.62,422.7 L322.12,422.77 L323.62,422.83 L325.12,422.88 L326.62,422.91 L328.12,422.94 L329.62,422.95 L331.12,422.91 L332.61,422.77 L334.11,422.59 L335.61,422.4 L337.1,422.27 L338.6,422.26 L340.09,422.39 L341.58,422.6 L343.07,422.84 L344.56,423.04 L346.06,423.15 L347.55,423.2 L349.05,423.25 L350.55,423.3 L352.04,423.34 L353.54,423.38 L355.04,423.42 L356.54,423.47 L358.03,423.5 L359.53,423.54 L361.03,423.58 L362.53,423.61 L364.03,423.65 L365.53,423.68 L367.03,423.71 L368.53,423.74 L370.03,423.77 L371.53,423.8 L373.03,423.82 L374.53,423.85 L376.03,423.88 L377.54,423.9 L379.04,423.92 L380.54,423.95 L382.04,423.97 L383.54,423.99 L385.05,424.01 L386.55,424.03 L388.05,424.05 L389.55,424.06 L391.06,424.08 L392.56,424.1 L394.06,424.11 L395.57,424.13 L397.07,424.15 L398.57,424.16 L400.08,424.18 L401.58,424.19 L403.08,424.2 L404.59,424.22 L406.09,424.23 L407.59,424.24 L409.1,424.26 L410.6,424.27 L412.11,424.28 L413.61,424.3 L415.11,424.31 L416.62,424.32 L418.12,424.33 L419.62,424.35 L421.13,424.36 L422.63,424.37 L424.13,424.39 L425.64,424.4 L427.14,424.41 L428.64,424.43 L430.14,424.44 L431.65,424.46 L433.15,424.47 L434.65,424.49 L436.15,424.51 L437.66,424.52 L439.16,424.54 L440.66,424.56 L442.16,424.58 L443.66,424.59 L445.16,424.61 L446.67,424.63 L448.17,424.65 L449.67,424.67 L451.17,424.68 L452.67,424.7 L454.17,424.72 L455.68,424.74 L457.18,424.75 L458.68,424.77 L460.18,424.79 L461.68,424.81 L463.18,424.82 L464.69,424.84 L466.19,424.86 L467.69,424.88 L469.19,424.89 L470.69,424.91 L472.19,424.93 L473.7,424.94 L475.2,424.96 L476.7,424.98 L478.2,424.99 L479.7,425.01 L481.2,425.03 L482.71,425.04 L484.21,425.06 L485.71,425.08 L487.21,425.09 L488.71,425.11 L490.22,425.12 L491.72,425.14 L493.22,425.15 L494.72,425.17 L496.22,425.18 L497.72,425.2 L499.23,425.21 L500.73,425.23 L502.23,425.24 L503.73,425.26 L505.23,425.27 L506.73,425.29 L508.24,425.3 L509.74,425.31 L511.24,425.33 L512.74,425.34 L514.24,425.35 L515.74,425.37 L517.25,425.38 L518.75,425.39 L520.25,425.4 L521.75,425.42 L523.25,425.43 L524.76,425.44 L526.26,425.45 L527.76,425.46 L529.26,425.48 L530.76,425.49 L532.26,425.5 L533.77,425.51 L535.27,425.52 L536.77,425.53 L538.27,425.54 L539.77,425.55 L541.27,425.56 L542.78,425.57 L544.28,425.58 L545.78,425.59 L547.28,425.6 L548.78,425.61 L550.28,425.61 L551.79,425.62 L553.29,425.63 L554.79,425.64 L556.29,425.65 L557.79,425.66 L559.3,425.67 L560.8,425.68 L562.3,425.69 L563.8,425.7 L565.3,425.71 L566.8,425.71 L568.31,425.72 L569.81,425.73 L571.31,425.74 L572.81,425.75 L574.31,425.76 L575.81,425.77 L577.32,425.77 L578.82,425.78 L580.32,425.79 L581.82,425.8 L583.32,425.81 L584.83,425.81 L586.33,425.82 L587.83,425.83 L589.33,425.84 L590.83,425.85 L592.33,425.85 L593.84,425.86 L595.34,425.87 L596.84,425.87 L598.34,425.88 L599.84,425.89 L601.34,425.9 L602.85,425.9 L604.35,425.91 L605.85,425.92 L607.35,425.92 L608.85,425.93 L610.36,425.94 L611.86,425.94 L613.36,425.95 L614.86,425.95 L616.36,425.96 L617.86,425.96 L619.37,425.97 L620.87,425.98 L622.37,425.98 L623.87,425.99 L625.37,425.99 L626.87,426 L628.38,426 L629.88,426.01 L631.38,426.01 L632.88,426.01 L634.38,426.02 L635.89,426.02 L637.39,426.03 L638.89,426.03 L640.39,426.03 L641.89,426.04 L643.39,426.04 L644.9,426.04 L646.4,426.05 L647.9,426.05 L647.9,426.05" stroke="#1414ff" stroke-width="2.0" stroke-dasharray="6.7 7.7" stroke-dashoffset="0.68"/>
<path d="M72,379.7 L73.62,379.7 L75.21,379.71 L76.79,379.72 L78.35,379.73 L79.89,379.75 L81.42,379.78 L82.93,379.81 L84.42,379.84 L85.89,379.88 L87.35,379.93 L88.8,379.98 L90.23,380.04 L91.65,380.1 L93.06,380.17 L94.45,380.33 L95.81,380.82 L97.14,381.57 L98.45,382.45 L99.75,383.34 L101.05,384.14 L102.33,384.93 L103.59,385.75 L104.84,386.6 L106.09,387.46 L107.33,388.32 L108.58,389.17 L109.84,389.98 L111.12,390.75 L112.42,391.46 L113.76,392.11 L115.11,392.73 L116.49,393.31 L117.88,393.88 L119.29,394.42 L120.7,394.95 L122.12,395.48 L123.54,396 L124.95,396.52 L126.35,397.06 L127.75,397.6 L129.15,398.15 L130.56,398.69 L131.96,399.23 L133.36,399.77 L134.77,400.3 L136.18,400.81 L137.6,401.3 L139.02,401.78 L140.45,402.24 L141.88,402.68 L143.32,403.12 L144.76,403.54 L146.21,403.96 L147.65,404.36 L149.11,404.75 L150.56,405.13 L152.02,405.5 L153.48,405.85 L154.94,406.19 L156.4,406.52 L157.87,406.83 L159.34,407.13 L160.81,407.42 L162.29,407.7 L163.77,407.98 L165.24,408.26 L166.72,408.54 L168.2,408.82 L169.67,409.11 L171.15,409.39 L172.62,409.68 L174.1,409.96 L175.57,410.24 L177.05,410.51 L178.52,410.78 L180,411.05 L181.48,411.31 L182.96,411.56 L184.44,411.81 L185.92,412.06 L187.41,412.3 L188.89,412.54 L190.37,412.77 L191.86,413 L193.34,413.23 L194.83,413.45 L196.31,413.67 L197.8,413.89 L199.28,414.11 L200.77,414.33 L202.26,414.55 L203.74,414.76 L205.23,414.97 L206.72,415.17 L208.21,415.37 L209.7,415.55 L211.19,415.73 L212.68,415.91 L214.17,416.09 L215.66,416.26 L217.16,416.43 L218.65,416.59 L220.15,416.75 L221.64,416.89 L223.14,417.03 L224.63,417.15 L226.13,417.26 L227.63,417.36 L229.12,417.46 L230.62,417.55 L232.12,417.64 L233.62,417.73 L235.12,417.81 L236.62,417.89 L238.12,417.96 L239.62,418.04 L241.12,418.11 L242.62,418.18 L244.12,418.24 L245.62,418.31 L247.12,418.38 L248.62,418.45 L250.12,418.51 L251.62,418.58 L253.12,418.65 L254.63,418.72 L256.13,418.8 L257.63,418.87 L259.13,418.95 L260.63,419.03 L262.13,419.12 L263.62,419.2 L265.12,419.29 L266.62,419.38 L268.12,419.47 L269.62,419.56 L271.12,419.65 L272.62,419.74 L274.12,419.83 L275.62,419.92 L277.12,420.02 L278.62,420.11 L280.12,420.2 L281.61,420.3 L283.11,420.39 L284.61,420.48 L286.11,420.58 L287.61,420.67 L289.11,420.76 L290.61,420.85 L292.11,420.94 L293.61,421.03 L295.11,421.12 L296.61,421.2 L298.1,421.29 L299.6,421.37 L301.1,421.45 L302.6,421.53 L304.1,421.61 L305.6,421.68 L307.1,421.76 L308.6,421.83 L310.1,421.9 L311.6,421.98 L313.11,422.06 L314.61,422.15 L316.11,422.23 L317.61,422.31 L319.11,422.38 L320.61,422.46 L322.11,422.52 L323.61,422.58 L325.11,422.63 L326.61,422.66 L328.11,422.69 L329.61,422.7 L331.11,422.66 L332.61,422.53 L334.1,422.34 L335.6,422.15 L337.09,422.02 L338.59,422.01 L340.08,422.14 L341.57,422.35 L343.06,422.59 L344.56,422.79 L346.05,422.9 L347.55,422.95 L349.04,423 L350.54,423.05 L352.04,423.09 L353.53,423.13 L355.03,423.17 L356.53,423.21 L358.03,423.25 L359.53,423.29 L361.02,423.33 L362.52,423.36 L364.02,423.4 L365.52,423.43 L367.02,423.46 L368.52,423.49 L370.02,423.52 L371.52,423.55 L373.03,423.57 L374.53,423.6 L376.03,423.63 L377.53,423.65 L379.03,423.67 L380.53,423.7 L382.04,423.72 L383.54,423.74 L385.04,423.76 L386.54,423.78 L388.05,423.8 L389.55,423.81 L391.05,423.83 L392.55,423.85 L394.06,423.86 L395.56,423.88 L397.06,423.9 L398.57,423.91 L400.07,423.93 L401.57,423.94 L403.08,423.95 L404.58,423.97 L406.08,423.98 L407.59,423.99 L409.09,424.01 L410.6,424.02 L412.1,424.03 L413.6,424.05 L415.11,424.06 L416.61,424.07 L418.11,424.08 L419.62,424.1 L421.12,424.11 L422.62,424.12 L424.13,424.14 L425.63,424.15 L427.13,424.16 L428.64,424.18 L430.14,424.19 L431.64,424.21 L433.14,424.22 L434.65,424.24 L436.15,424.26 L437.65,424.27 L439.15,424.29 L440.65,424.31 L442.16,424.33 L443.66,424.34 L445.16,424.36 L446.66,424.38 L448.16,424.4 L449.66,424.42 L451.17,424.43 L452.67,424.45 L454.17,424.47 L455.67,424.49 L457.17,424.5 L458.67,424.52 L460.18,424.54 L461.68,424.56 L463.18,424.57 L464.68,424.59 L466.18,424.61 L467.69,424.63 L469.19,424.64 L470.69,424.66 L472.19,424.68 L473.69,424.69 L475.19,424.71 L476.7,424.73 L478.2,424.74 L479.7,424.76 L481.2,424.78 L482.7,424.79 L484.2,424.81 L485.71,424.83 L487.21,424.84 L488.71,424.86 L490.21,424.87 L491.71,424.89 L493.21,424.9 L494.72,424.92 L496.22,424.93 L497.72,424.95 L499.22,424.96 L500.72,424.98 L502.23,424.99 L503.73,425.01 L505.23,425.02 L506.73,425.04 L508.23,425.05 L509.73,425.06 L511.24,425.08 L512.74,425.09 L514.24,425.1 L515.74,425.12 L517.24,425.13 L518.74,425.14 L520.25,425.15 L521.75,425.17 L523.25,425.18 L524.75,425.19 L526.25,425.2 L527.76,425.21 L529.26,425.23 L530.76,425.24 L532.26,425.25 L533.76,425.26 L535.26,425.27 L536.77,425.28 L538.27,425.29 L539.77,425.3 L541.27,425.31 L542.77,425.32 L544.28,425.33 L545.78,425.34 L547.28,425.35 L548.78,425.36 L550.28,425.36 L551.78,425.37 L553.29,425.38 L554.79,425.39 L556.29,425.4 L557.79,425.41 L559.29,425.42 L560.79,425.43 L562.3,425.44 L563.8,425.45 L565.3,425.46 L566.8,425.46 L568.3,425.47 L569.81,425.48 L571.31,425.49 L572.81,425.5 L574.31,425.51 L575.81,425.52 L577.31,425.52 L578.82,425.53 L580.32,425.54 L581.82,425.55 L583.32,425.56 L584.82,425.56 L586.33,425.57 L587.83,425.58 L589.33,425.59 L590.83,425.6 L592.33,425.6 L593.83,425.61 L595.34,425.62 L596.84,425.62 L598.34,425.63 L599.84,425.64 L601.34,425.65 L602.85,425.65 L604.35,425.66 L605.85,425.67 L607.35,425.67 L608.85,425.68 L610.35,425.69 L611.86,425.69 L613.36,425.7 L614.86,425.7 L616.36,425.71 L617.86,425.71 L619.37,425.72 L620.87,425.73 L622.37,425.73 L623.87,425.74 L625.37,425.74 L626.87,425.75 L628.38,425.75 L629.88,425.76 L631.38,425.76 L632.88,425.76 L634.38,425.77 L635.89,425.77 L637.39,425.78 L638.89,425.78 L640.39,425.78 L641.89,425.79 L643.39,425.79 L644.9,425.79 L646.4,425.8 L647.9,425.8 L647.9,425.8" stroke="#109618" stroke-width="2.0" stroke-dasharray="6.7 7.7" stroke-dashoffset="0.66"/>
<path d="M71.6,143 L71.66,144.51 L71.72,146.01 L71.78,147.52 L71.84,149.02 L71.91,150.53 L71.97,152.03 L72.04,153.54 L72.11,155.04 L72.18,156.55 L72.25,158.05 L72.32,159.55 L72.4,161.06 L72.47,162.56 L72.55,164.07 L72.63,165.57 L72.71,167.07 L72.79,168.58 L72.87,170.08 L72.95,171.58 L73.03,173.09 L73.12,174.59 L73.21,176.09 L73.29,177.6 L73.38,179.1 L73.47,180.6 L73.56,182.11 L73.66,183.61 L73.75,185.11 L73.84,186.61 L73.94,188.12 L74.04,189.62 L74.13,191.12 L74.23,192.62 L74.33,194.12 L74.43,195.62 L74.54,197.13 L74.64,198.63 L74.74,200.13 L74.85,201.63 L74.95,203.13 L75.06,204.63 L75.17,206.13 L75.28,207.63 L75.39,209.14 L75.5,210.64 L75.61,212.14 L75.72,213.64 L75.84,215.14 L75.95,216.64 L76.07,218.14 L76.18,219.64 L76.3,221.14 L76.42,222.64 L76.54,224.14 L76.66,225.64 L76.78,227.14 L76.9,228.64 L77.02,230.14 L77.14,231.64 L77.27,233.14 L77.39,234.63 L77.51,236.13 L77.64,237.63 L77.77,239.13 L77.89,240.63 L78.02,242.13 L78.15,243.63 L78.28,245.13 L78.41,246.63 L78.54,248.12 L78.67,249.62 L78.8,251.12 L78.93,252.62 L79.07,254.12 L79.2,255.62 L79.34,257.11 L79.47,258.61 L79.61,260.11 L79.74,261.61 L79.88,263.11 L80.01,264.6 L80.15,266.1 L80.29,267.6 L80.43,269.1 L80.57,270.6 L80.71,272.09 L80.84,273.59 L80.98,275.09 L81.13,276.58 L81.27,278.08 L81.41,279.58 L81.55,281.08 L81.69,282.57 L81.83,284.07 L81.98,285.57 L82.12,287.06 L82.26,288.56 L82.41,290.06 L82.55,291.55 L82.7,293.05 L82.84,294.55 L82.99,296.04 L83.13,297.54 L83.28,299.04 L83.42,300.53 L83.57,302.03 L83.71,303.53 L83.86,305.02 L84.01,306.52 L84.16,308.02 L84.3,309.52 L84.45,311.02 L84.61,312.52 L84.76,314.02 L84.92,315.52 L85.08,317.01 L85.24,318.51 L85.41,320.01 L85.59,321.51 L85.77,323.01 L85.95,324.5 L86.14,325.99 L86.33,327.48 L86.54,328.97 L86.75,330.46 L86.96,331.95 L87.19,333.43 L87.42,334.91 L87.66,336.38 L87.92,337.86 L88.2,339.34 L88.49,340.81 L88.8,342.29 L89.12,343.76 L89.46,345.23 L89.82,346.7 L90.18,348.17 L90.56,349.63 L90.95,351.09 L91.36,352.55 L91.77,354 L92.19,355.44 L92.63,356.88 L93.07,358.31 L93.52,359.74 L93.98,361.16 L94.48,362.57 L95.01,363.98 L95.57,365.38 L96.15,366.77 L96.74,368.16 L97.35,369.54 L97.97,370.92 L98.59,372.29 L99.22,373.66 L99.84,375.03 L100.5,376.38 L101.18,377.73 L101.88,379.06 L102.58,380.39 L103.29,381.73 L103.98,383.07 L104.64,384.41 L105.28,385.77 L105.87,387.15 L106.42,388.55 L106.94,389.96 L107.45,391.38 L107.96,392.8 L108.48,394.21 L109.04,395.61 L109.62,396.99 L110.22,398.38 L110.82,399.76 L111.44,401.15 L112.06,402.53 L112.71,403.9 L113.36,405.27 L114.03,406.62 L114.72,407.96 L115.43,409.29 L116.16,410.59 L116.91,411.88 L117.69,413.14 L118.5,414.39 L119.35,415.62 L120.24,416.83 L121.16,418.04 L122.1,419.22 L123.07,420.39 L124.06,421.54 L125.07,422.68 L126.08,423.79 L127.1,424.89 L128.13,425.97 L129.18,427.04 L130.25,428.1 L131.35,429.14 L132.46,430.17 L133.58,431.18 L134.72,432.17 L135.88,433.15 L137.04,434.1 L138.22,435.04 L139.4,435.95 L140.6,436.86 L141.81,437.76 L143.03,438.65 L144.28,439.52 L145.53,440.38 L146.8,441.2 L148.09,441.99 L149.39,442.74 L150.7,443.23 L152.02,444.25 L153.37,444.72 L154.73,445.49 L156.11,446.22 L157.51,446.59 L158.91,447.14 L160.33,447.48 L161.75,448.1 L163.18,448.72 L164.62,449.28 L166.05,449.79 L167.49,450 L168.93,450.24 L170.38,450.72 L171.84,451.4 L173.3,451.4 L174.77,451.85 L176.24,452.41 L177.72,452.26 L179.21,452.84 L180.69,453.29 L182.18,453.19 L183.66,453.61 L185.14,454.03 L186.63,453.87 L188.11,454.3 L189.6,454.64 L191.09,454.81 L192.58,454.92 L194.07,454.99 L195.57,455.33 L197.06,455.45 L198.56,455.68 L200.06,455.78 L201.55,456.16 L203.05,456.26 L204.55,456.15 L206.05,456.39 L207.55,456.36 L209.05,456.56 L210.55,456.62 L212.06,456.87 L213.56,456.8 L215.06,456.91 L216.57,457.09 L218.07,456.96 L219.57,457.2 L221.08,456.83 L222.58,457.1 L224.09,456.92 L225.59,456.91 L227.1,456.99 L228.6,456.9 L230.11,456.82 L231.61,456.57 L233.11,456.58 L234.62,456.85 L236.12,456.72 L237.63,456.77 L239.13,456.85 L240.63,456.67 L242.14,456.3 L243.64,456.36 L245.14,456.42 L246.64,456.15 L248.14,456.43 L249.65,456.32 L251.15,456.17 L252.65,455.87 L254.15,455.95 L255.65,455.48 L257.15,455.47 L258.65,455.46 L260.16,455.52 L261.66,455.3 L263.16,455.04 L264.67,455.07 L266.17,454.99 L267.67,454.9 L269.17,454.75 L270.68,454.81 L272.18,454.75 L273.68,454.85 L275.18,454.76 L276.68,454.49 L278.18,454.33 L279.68,454.4 L281.18,454.34 L282.67,454.06 L284.17,454 L285.67,453.95 L287.17,453.16 L288.66,453.61 L290.16,453.02 L291.66,453.01 L293.15,453.11 L294.65,452.88 L296.14,452.24 L297.64,452.51 L299.13,451.81 L300.63,451.91 L302.13,452.18 L303.62,451.66 L305.12,451.69 L306.62,451.68 L308.12,451.63 L309.61,451.41 L311.11,450.41 L312.61,450.72 L314.11,450.64 L315.61,450.03 L317.11,450.53 L318.62,450.55 L320.12,450.82 L321.62,450.99 L323.12,449.94 L324.63,450.1 L326.14,450.71 L327.64,450.02 L329.15,450.18 L330.65,450.69 L332.15,450.14 L333.65,450.99 L335.15,451.03 L336.65,449.76 L338.15,450.3 L339.65,450.48 L341.14,450.54 L342.64,449.4 L344.14,449.12 L345.64,449.96 L347.14,449.9 L348.64,448.87 L350.14,449.09 L351.64,449.35 L353.15,449.41 L354.65,448.5 L356.15,449.01 L357.65,449.09 L359.16,448.71 L360.66,448.2 L362.16,448 L363.66,448.2 L365.17,448.66 L366.67,447.84 L368.18,447.75 L369.68,448.03 L371.18,447.7 L372.69,447.73 L374.19,447.58 L375.69,447.95 L377.2,448.04 L378.7,447.78 L380.2,447.52 L381.71,447.63 L383.21,447.78 L384.71,447.97 L386.22,447.96 L387.72,447.42 L389.23,447.23 L390.73,447.71 L392.23,447.73 L393.74,447.4 L395.24,447.55 L396.75,447.56 L398.25,447.37 L399.75,447.49 L401.26,446.97 L402.76,447.08 L404.27,447.05 L405.77,446.93 L407.28,447.32 L408.78,446.82 L410.28,447.13 L411.79,446.78 L413.29,446.9 L414.8,446.91 L416.3,446.76 L417.81,446.91 L419.31,446.89 L420.82,446.76 L422.32,446.95 L423.83,446.64 L425.33,446.63 L426.83,446.7 L428.34,446.7 L429.84,446.6 L431.35,446.94 L432.85,446.89 L434.36,446.52 L435.86,446.64 L437.37,446.57 L438.87,446.68 L440.37,446.59 L441.88,446.7 L443.38,446.91 L444.89,446.64 L446.39,446.78 L447.9,446.75 L449.4,446.84 L450.91,446.49 L452.41,446.84 L453.91,446.94 L455.42,446.78 L456.92,446.62 L458.43,446.82 L459.93,446.85 L461.44,446.83 L462.94,446.58 L464.45,447 L465.95,447 L467.46,446.74 L468.96,446.83 L470.46,446.56 L471.97,447.04 L473.47,446.97 L474.98,446.89 L476.48,446.96 L477.99,446.68 L479.49,446.75 L481,446.73 L482.5,446.91 L484.01,446.67 L485.51,447.09 L487.01,446.88 L488.52,446.88 L490.02,446.72 L491.53,447.02 L493.03,447.1 L494.54,447.02 L496.04,446.84 L497.54,447.12 L499.05,446.82 L500.55,447.17 L502.06,447.06 L503.56,446.93 L505.07,447.06 L506.57,447.14 L508.07,446.97 L509.58,447.29 L511.08,447.1 L512.59,447.36 L514.09,447.36 L515.6,447.02 L517.1,447.33 L518.6,447.19 L520.11,447.45 L521.61,447.37 L523.12,447.37 L524.62,447.62 L526.12,447.24 L527.63,447.53 L529.13,447.45 L530.64,447.34 L532.14,447.74 L533.65,447.69 L535.15,447.89 L536.65,447.79 L538.16,447.7 L539.66,448.07 L541.17,447.67 L542.67,447.69 L544.17,448.07 L545.68,447.93 L547.18,447.97 L548.69,448.27 L550.19,448.04 L551.69,448.36 L553.2,448.28 L554.7,448.17 L556.21,448.08 L557.71,448.21 L559.21,448.61 L560.72,448.37 L562.22,448.29 L563.72,448.4 L565.23,448.74 L566.73,448.42 L568.24,448.77 L569.74,448.49 L571.24,448.94 L572.75,448.77 L574.25,448.57 L575.76,449.06 L577.26,448.81 L578.76,449.04 L580.27,448.98 L581.77,448.81 L583.28,448.87 L584.78,448.94 L586.28,448.99 L587.79,448.98 L589.29,449.03 L590.8,449.53 L592.3,449.15 L593.8,449.41 L595.31,449.26 L596.81,449.36 L598.31,449.69 L599.82,449.83 L601.32,449.65 L602.82,449.48 L604.33,450.03 L605.83,449.61 L607.33,449.84 L608.84,449.97 L610.34,450.21 L611.84,450.24 L613.35,450.19 L614.85,450.15 L616.35,450.44 L617.85,450.53 L619.36,450.6 L620.86,450.59 L622.36,450.36 L623.87,450.53 L625.37,450.7 L626.87,450.79 L628.37,451.03 L629.87,450.82 L631.38,451.11 L632.88,451.05 L634.38,451.34 L635.88,451.13 L637.39,451.36 L638.89,451.26 L640.39,451.4 L641.89,451.85 L643.39,451.63 L644.9,452.01 L646.4,451.92 L647.9,451.77" stroke="#ff1414" stroke-width="2.1"/>
<path d="M71.6,143 L71.69,144.5 L71.79,146 L71.88,147.5 L71.98,149.01 L72.07,150.51 L72.17,152.01 L72.27,153.51 L72.36,155.01 L72.46,156.51 L72.56,158.01 L72.66,159.52 L72.76,161.02 L72.85,162.52 L72.95,164.02 L73.05,165.52 L73.15,167.02 L73.25,168.52 L73.36,170.02 L73.46,171.52 L73.56,173.03 L73.66,174.53 L73.76,176.03 L73.87,177.53 L73.97,179.03 L74.07,180.53 L74.18,182.03 L74.28,183.53 L74.39,185.03 L74.49,186.53 L74.6,188.03 L74.7,189.53 L74.81,191.04 L74.91,192.54 L75.02,194.04 L75.13,195.54 L75.24,197.04 L75.34,198.54 L75.45,200.04 L75.56,201.54 L75.67,203.04 L75.78,204.54 L75.89,206.04 L76,207.54 L76.11,209.04 L76.22,210.54 L76.33,212.04 L76.44,213.54 L76.55,215.04 L76.66,216.54 L76.77,218.04 L76.88,219.54 L77,221.04 L77.11,222.54 L77.22,224.04 L77.33,225.54 L77.45,227.04 L77.56,228.54 L77.68,230.04 L77.79,231.54 L77.9,233.04 L78.02,234.54 L78.13,236.04 L78.25,237.54 L78.37,239.04 L78.48,240.54 L78.6,242.04 L78.71,243.54 L78.83,245.04 L78.95,246.54 L79.06,248.04 L79.18,249.54 L79.3,251.04 L79.42,252.54 L79.53,254.04 L79.65,255.54 L79.77,257.04 L79.89,258.54 L80.01,260.04 L80.13,261.54 L80.24,263.04 L80.36,264.54 L80.48,266.04 L80.6,267.54 L80.72,269.04 L80.84,270.54 L80.96,272.03 L81.08,273.53 L81.2,275.03 L81.33,276.53 L81.45,278.03 L81.57,279.53 L81.69,281.03 L81.81,282.53 L81.93,284.03 L82.05,285.53 L82.18,287.03 L82.3,288.53 L82.42,290.03 L82.54,291.53 L82.67,293.03 L82.79,294.52 L82.91,296.02 L83.03,297.52 L83.16,299.02 L83.28,300.52 L83.4,302.02 L83.53,303.52 L83.65,305.02 L83.77,306.52 L83.89,308.02 L84.01,309.52 L84.13,311.02 L84.25,312.52 L84.36,314.02 L84.48,315.52 L84.6,317.02 L84.72,318.52 L84.85,320.02 L84.97,321.52 L85.1,323.02 L85.23,324.52 L85.37,326.02 L85.51,327.52 L85.65,329.02 L85.8,330.51 L85.95,332.01 L86.12,333.5 L86.28,334.99 L86.46,336.48 L86.64,337.97 L86.84,339.46 L87.05,340.95 L87.27,342.44 L87.5,343.93 L87.74,345.42 L87.99,346.9 L88.25,348.39 L88.51,349.87 L88.78,351.35 L89.05,352.83 L89.34,354.31 L89.62,355.79 L89.91,357.26 L90.21,358.73 L90.5,360.21 L90.8,361.7 L91.1,363.18 L91.41,364.67 L91.72,366.16 L92.05,367.65 L92.38,369.13 L92.73,370.6 L93.09,372.08 L93.47,373.54 L93.86,374.99 L94.27,376.43 L94.7,377.86 L95.16,379.27 L95.63,380.67 L96.13,382.05 L96.72,383.41 L97.38,384.74 L98.11,386.05 L98.89,387.36 L99.69,388.65 L100.49,389.95 L101.28,391.25 L102.03,392.56 L102.76,393.88 L103.47,395.2 L104.19,396.52 L104.91,397.84 L105.63,399.17 L106.35,400.48 L107.08,401.8 L107.83,403.1 L108.58,404.41 L109.33,405.71 L110.08,407.03 L110.83,408.34 L111.59,409.65 L112.36,410.95 L113.13,412.25 L113.92,413.53 L114.72,414.81 L115.54,416.06 L116.38,417.3 L117.24,418.52 L118.13,419.71 L119.05,420.91 L119.98,422.09 L120.95,423.27 L121.93,424.42 L122.94,425.56 L123.97,426.67 L125.02,427.75 L126.1,428.79 L127.19,429.79 L128.31,430.76 L129.47,431.7 L130.67,432.61 L131.89,433.5 L133.13,434.37 L134.39,435.22 L135.67,436.05 L136.95,436.85 L138.24,437.63 L139.53,438.39 L140.83,439.14 L142.14,439.87 L143.47,440.59 L144.81,441.29 L146.16,441.97 L147.53,442.62 L148.9,443.24 L150.28,443.97 L151.66,444.16 L153.06,445.08 L154.47,445.19 L155.89,446.03 L157.31,446.27 L158.75,446.84 L160.19,447.6 L161.63,447.81 L163.09,448.31 L164.54,448.75 L166,448.82 L167.45,449.54 L168.91,449.91 L170.37,449.86 L171.84,450.36 L173.32,450.52 L174.8,451.03 L176.28,450.95 L177.77,451.45 L179.25,451.84 L180.74,452.06 L182.23,451.98 L183.72,452.57 L185.2,452.5 L186.69,453 L188.18,453.06 L189.67,453.11 L191.16,453.6 L192.65,453.83 L194.14,453.97 L195.64,454.3 L197.13,454.12 L198.63,454.29 L200.12,454.42 L201.62,454.77 L203.11,454.86 L204.61,454.99 L206.1,455.2 L207.6,455.27 L209.1,455.31 L210.6,455.7 L212.1,455.75 L213.6,455.97 L215.1,456.31 L216.6,456 L218.1,456.27 L219.6,456.27 L221.11,456.09 L222.61,456.19 L224.11,456.44 L225.62,456.12 L227.12,456.31 L228.63,456.37 L230.13,456.13 L231.64,456.45 L233.14,456.26 L234.65,456.2 L236.15,456.31 L237.66,456.16 L239.16,456.31 L240.66,456.09 L242.17,456.4 L243.67,456.18 L245.18,455.98 L246.68,456.03 L248.18,456.2 L249.68,456.09 L251.19,455.85 L252.69,455.7 L254.19,455.63 L255.7,455.87 L257.2,455.34 L258.7,455.67 L260.2,455.58 L261.71,455.17 L263.21,455.17 L264.71,455.22 L266.22,455.27 L267.72,455.28 L269.22,455.23 L270.72,454.74 L272.23,454.6 L273.73,454.68 L275.23,454.62 L276.73,454.57 L278.22,454.11 L279.72,454.31 L281.22,454.36 L282.72,454.21 L284.22,454.09 L285.71,453.93 L287.21,453.81 L288.71,453 L290.2,453.49 L291.7,452.85 L293.2,452.72 L294.69,452.67 L296.19,452.92 L297.68,452.46 L299.18,452.06 L300.67,451.92 L302.17,452.26 L303.66,452.04 L305.16,451.22 L306.66,451.18 L308.16,451.15 L309.66,450.81 L311.16,451.04 L312.65,450.49 L314.15,450.77 L315.65,451.09 L317.16,450.9 L318.66,449.91 L320.16,450.02 L321.66,450.3 L323.16,450.62 L324.67,450.31 L326.18,450.16 L327.68,450.31 L329.19,450.15 L330.69,451.09 L332.19,450.87 L333.69,450.47 L335.19,450.81 L336.69,450.43 L338.19,450.28 L339.69,449.88 L341.18,449.87 L342.68,450.37 L344.18,449.95 L345.68,449.89 L347.18,448.86 L348.68,449.27 L350.18,449 L351.68,448.56 L353.18,448.86 L354.68,448.38 L356.19,448.5 L357.69,449.07 L359.19,448.86 L360.69,448.79 L362.2,448.05 L363.7,448.07 L365.2,447.87 L366.71,447.89 L368.21,447.84 L369.71,448.58 L371.22,448.45 L372.72,447.78 L374.22,447.77 L375.73,448.31 L377.23,447.94 L378.73,447.73 L380.24,447.77 L381.74,447.59 L383.24,447.77 L384.75,447.82 L386.25,447.64 L387.75,447.8 L389.26,447.3 L390.76,447.57 L392.27,447.77 L393.77,447.21 L395.27,447.38 L396.78,447.42 L398.28,447.22 L399.79,447.54 L401.29,447.23 L402.79,447.19 L404.3,447.39 L405.8,446.87 L407.31,447.3 L408.81,446.87 L410.31,446.97 L411.82,447 L413.32,446.96 L414.83,446.71 L416.33,446.83 L417.84,446.82 L419.34,447.11 L420.84,447.06 L422.35,446.87 L423.85,447.03 L425.36,446.97 L426.86,446.71 L428.37,446.56 L429.87,446.8 L431.37,446.64 L432.88,446.48 L434.38,446.96 L435.89,446.94 L437.39,446.72 L438.9,446.76 L440.4,446.78 L441.9,446.91 L443.41,446.69 L444.91,446.74 L446.42,446.57 L447.92,446.58 L449.43,446.72 L450.93,446.58 L452.43,446.48 L453.94,446.65 L455.44,446.85 L456.95,446.62 L458.45,446.92 L459.96,446.84 L461.46,446.82 L462.96,446.95 L464.47,446.55 L465.97,446.61 L467.48,446.98 L468.98,446.99 L470.49,446.58 L471.99,446.94 L473.5,446.57 L475,446.63 L476.5,446.63 L478.01,446.73 L479.51,446.79 L481.02,447.06 L482.52,446.83 L484.03,446.69 L485.53,446.77 L487.03,446.65 L488.54,446.67 L490.04,446.89 L491.55,446.94 L493.05,446.82 L494.56,446.9 L496.06,446.77 L497.56,447.06 L499.07,446.94 L500.57,446.84 L502.08,447.02 L503.58,446.89 L505.08,446.95 L506.59,446.88 L508.09,447.23 L509.6,447.01 L511.1,447.37 L512.6,447.12 L514.11,447.02 L515.61,447.33 L517.12,447.37 L518.62,447.48 L520.12,447.13 L521.63,447.5 L523.13,447.57 L524.64,447.33 L526.14,447.44 L527.64,447.56 L529.15,447.41 L530.65,447.76 L532.16,447.72 L533.66,447.83 L535.16,447.67 L536.67,447.75 L538.17,447.63 L539.67,447.73 L541.18,447.98 L542.68,448.14 L544.19,447.78 L545.69,447.77 L547.19,447.82 L548.7,448.05 L550.2,448.27 L551.71,448.03 L553.21,448.2 L554.71,448.26 L556.22,448.46 L557.72,448.17 L559.22,448.14 L560.73,448.42 L562.23,448.39 L563.74,448.4 L565.24,448.68 L566.74,448.68 L568.25,448.42 L569.75,448.69 L571.25,448.86 L572.76,448.96 L574.26,448.55 L575.77,448.99 L577.27,448.66 L578.77,449.02 L580.28,449.02 L581.78,449.24 L583.28,449.13 L584.79,448.9 L586.29,449.24 L587.8,449.08 L589.3,449.42 L590.8,449.07 L592.31,449.26 L593.81,449.49 L595.31,449.28 L596.82,449.58 L598.32,449.66 L599.82,449.73 L601.33,449.85 L602.83,449.68 L604.33,449.6 L605.84,449.72 L607.34,449.84 L608.84,449.73 L610.34,450.12 L611.85,449.86 L613.35,449.92 L614.85,450.42 L616.36,450.43 L617.86,450.22 L619.36,450.33 L620.86,450.65 L622.37,450.62 L623.87,450.52 L625.37,450.68 L626.87,450.97 L628.37,450.62 L629.88,451.19 L631.38,451.06 L632.88,450.95 L634.38,451.35 L635.89,451.07 L637.39,451.32 L638.89,451.49 L640.39,451.42 L641.89,451.83 L643.39,451.82 L644.9,451.65 L646.4,451.73 L647.9,451.78" stroke="#1414ff" stroke-width="2.1"/>
<path d="M71.6,143 L71.7,144.5 L71.8,146 L71.9,147.5 L72,149.01 L72.09,150.51 L72.19,152.01 L72.29,153.51 L72.39,155.01 L72.5,156.51 L72.6,158.01 L72.7,159.51 L72.8,161.02 L72.9,162.52 L73,164.02 L73.1,165.52 L73.21,167.02 L73.31,168.52 L73.41,170.02 L73.52,171.52 L73.62,173.02 L73.72,174.53 L73.83,176.03 L73.93,177.53 L74.03,179.03 L74.14,180.53 L74.24,182.03 L74.35,183.53 L74.45,185.03 L74.56,186.53 L74.66,188.03 L74.77,189.53 L74.88,191.04 L74.98,192.54 L75.09,194.04 L75.2,195.54 L75.3,197.04 L75.41,198.54 L75.52,200.04 L75.63,201.54 L75.73,203.04 L75.84,204.54 L75.95,206.04 L76.06,207.54 L76.17,209.04 L76.28,210.55 L76.38,212.05 L76.49,213.55 L76.6,215.05 L76.71,216.55 L76.82,218.05 L76.93,219.55 L77.04,221.05 L77.15,222.55 L77.26,224.05 L77.37,225.55 L77.48,227.05 L77.6,228.55 L77.71,230.05 L77.82,231.55 L77.93,233.05 L78.04,234.55 L78.15,236.05 L78.27,237.55 L78.38,239.05 L78.49,240.55 L78.6,242.05 L78.72,243.56 L78.83,245.06 L78.94,246.56 L79.05,248.06 L79.17,249.56 L79.28,251.06 L79.4,252.56 L79.51,254.06 L79.62,255.56 L79.74,257.06 L79.85,258.56 L79.97,260.06 L80.08,261.56 L80.19,263.06 L80.31,264.56 L80.42,266.06 L80.54,267.56 L80.65,269.06 L80.77,270.56 L80.89,272.06 L81,273.56 L81.12,275.06 L81.23,276.56 L81.35,278.06 L81.46,279.56 L81.58,281.06 L81.7,282.56 L81.81,284.06 L81.93,285.56 L82.05,287.06 L82.16,288.56 L82.28,290.06 L82.4,291.56 L82.51,293.06 L82.63,294.56 L82.75,296.06 L82.86,297.56 L82.98,299.06 L83.1,300.56 L83.22,302.06 L83.33,303.56 L83.45,305.06 L83.57,306.56 L83.68,308.06 L83.8,309.56 L83.92,311.06 L84.03,312.56 L84.15,314.06 L84.26,315.56 L84.38,317.06 L84.5,318.56 L84.61,320.06 L84.73,321.56 L84.86,323.06 L84.98,324.56 L85.1,326.06 L85.23,327.56 L85.36,329.06 L85.49,330.56 L85.63,332.05 L85.77,333.55 L85.91,335.05 L86.05,336.55 L86.2,338.04 L86.35,339.54 L86.5,341.04 L86.66,342.54 L86.81,344.03 L86.97,345.53 L87.14,347.03 L87.31,348.53 L87.48,350.02 L87.66,351.52 L87.85,353.01 L88.04,354.5 L88.24,355.99 L88.44,357.48 L88.65,358.97 L88.87,360.45 L89.09,361.94 L89.33,363.43 L89.57,364.91 L89.83,366.4 L90.09,367.89 L90.36,369.37 L90.64,370.85 L90.93,372.33 L91.23,373.81 L91.54,375.29 L91.86,376.76 L92.19,378.23 L92.53,379.69 L92.88,381.15 L93.24,382.61 L93.61,384.05 L94,385.5 L94.4,386.96 L94.82,388.41 L95.27,389.87 L95.73,391.32 L96.21,392.76 L96.72,394.2 L97.25,395.61 L97.81,397.01 L98.39,398.39 L99,399.75 L99.64,401.07 L100.34,402.38 L101.14,403.66 L102,404.91 L102.91,406.13 L103.85,407.32 L104.8,408.47 L105.83,409.55 L106.93,410.59 L108.04,411.62 L109.14,412.66 L110.18,413.75 L111.14,414.89 L112.04,416.1 L112.91,417.34 L113.75,418.6 L114.6,419.86 L115.46,421.1 L116.35,422.31 L117.3,423.46 L118.3,424.55 L119.35,425.61 L120.44,426.65 L121.56,427.66 L122.71,428.65 L123.88,429.62 L125.07,430.57 L126.26,431.49 L127.46,432.39 L128.66,433.28 L129.88,434.17 L131.12,435.04 L132.38,435.89 L133.64,436.72 L134.93,437.52 L136.22,438.29 L137.53,439.03 L138.85,439.72 L140.19,440.38 L141.55,441.01 L142.92,441.61 L144.32,442.18 L145.73,442.74 L147.14,443.27 L148.56,443.79 L149.99,444.29 L151.41,444.81 L152.83,445.09 L154.26,445.73 L155.7,446.32 L157.14,446.8 L158.58,446.85 L160.03,447.38 L161.48,447.83 L162.94,448.2 L164.4,448.6 L165.86,448.98 L167.32,449.47 L168.78,449.58 L170.25,449.91 L171.72,450.25 L173.2,450.43 L174.67,450.97 L176.15,451.13 L177.64,451.66 L179.12,451.87 L180.61,451.82 L182.1,452.06 L183.58,452.55 L185.07,452.64 L186.56,452.55 L188.05,453.04 L189.55,453.09 L191.04,453.44 L192.54,453.58 L194.04,453.81 L195.54,453.84 L197.04,454.09 L198.54,453.91 L200.04,454.07 L201.54,454.06 L203.04,454.6 L204.53,454.38 L206.03,454.72 L207.53,454.85 L209.03,455.16 L210.53,455.09 L212.03,455.11 L213.53,455.36 L215.03,455.31 L216.53,455.52 L218.03,455.75 L219.53,455.5 L221.03,456.01 L222.54,455.81 L224.04,455.73 L225.55,456.02 L227.05,455.7 L228.55,455.82 L230.06,456.15 L231.57,455.82 L233.07,456.08 L234.58,455.77 L236.08,456 L237.59,456.07 L239.09,455.85 L240.59,455.91 L242.1,456.01 L243.6,456.01 L245.11,455.77 L246.61,455.86 L248.12,456.11 L249.62,455.72 L251.12,455.9 L252.63,455.55 L254.13,455.62 L255.63,455.59 L257.14,455.57 L258.64,455.57 L260.14,455.55 L261.65,455.44 L263.15,455.43 L264.65,455.41 L266.16,455.03 L267.66,455.23 L269.16,454.97 L270.66,454.74 L272.17,454.6 L273.67,454.84 L275.17,454.67 L276.67,454.22 L278.17,454.41 L279.67,453.94 L281.16,454.02 L282.66,453.99 L284.16,453.9 L285.66,453.4 L287.15,453.16 L288.65,453.39 L290.15,453.43 L291.64,453.26 L293.14,452.76 L294.64,452.77 L296.13,452.72 L297.63,452.7 L299.12,452.2 L300.62,452.39 L302.11,451.71 L303.61,451.45 L305.11,451.38 L306.61,451.68 L308.11,451.7 L309.6,451.1 L311.1,451.19 L312.6,450.4 L314.1,450.69 L315.6,450.49 L317.1,450.39 L318.61,450.03 L320.11,450.56 L321.61,450.63 L323.11,450.61 L324.62,450.78 L326.13,450.43 L327.63,451.01 L329.14,450.66 L330.64,451.11 L332.14,450.47 L333.64,450.87 L335.14,450.1 L336.64,449.83 L338.14,450.85 L339.64,449.89 L341.13,449.26 L342.63,449.88 L344.13,450.15 L345.63,449.82 L347.13,450 L348.63,449.83 L350.13,449.11 L351.63,448.74 L353.14,448.45 L354.64,448.62 L356.14,448.97 L357.64,449.2 L359.15,448.09 L360.65,448.92 L362.15,448.78 L363.66,448.62 L365.16,447.98 L366.66,447.85 L368.17,448.44 L369.67,448.29 L371.17,447.98 L372.68,447.9 L374.18,447.59 L375.68,448.34 L377.19,448.15 L378.69,448.2 L380.2,448.03 L381.7,447.72 L383.2,447.96 L384.71,447.46 L386.21,447.75 L387.71,447.41 L389.22,447.48 L390.72,447.74 L392.23,447.42 L393.73,447.67 L395.23,447.45 L396.74,447.23 L398.24,447.17 L399.75,446.99 L401.25,447.28 L402.76,447.39 L404.26,447.02 L405.76,447.12 L407.27,447.36 L408.77,447.01 L410.28,447.27 L411.78,447.18 L413.29,446.97 L414.79,447.02 L416.3,446.7 L417.8,446.91 L419.3,447.01 L420.81,446.71 L422.31,446.6 L423.82,446.57 L425.32,446.62 L426.83,446.64 L428.33,446.91 L429.84,446.72 L431.34,446.75 L432.85,446.63 L434.35,446.61 L435.85,446.73 L437.36,446.83 L438.86,446.54 L440.37,446.67 L441.87,446.77 L443.38,446.93 L444.88,446.59 L446.39,446.65 L447.89,446.74 L449.39,446.53 L450.9,446.77 L452.4,446.95 L453.91,446.61 L455.41,446.72 L456.92,446.54 L458.42,446.74 L459.93,446.98 L461.43,446.77 L462.94,446.61 L464.44,446.67 L465.94,446.83 L467.45,446.95 L468.95,446.76 L470.46,446.79 L471.96,446.95 L473.47,446.61 L474.97,447.04 L476.48,446.81 L477.98,446.75 L479.49,446.98 L480.99,446.73 L482.5,446.69 L484,446.76 L485.5,446.97 L487.01,446.7 L488.51,446.89 L490.02,446.79 L491.52,446.96 L493.03,446.76 L494.53,447.09 L496.04,447.18 L497.54,446.89 L499.04,446.92 L500.55,447.05 L502.05,447.14 L503.56,446.81 L505.06,447.14 L506.57,447.23 L508.07,447.24 L509.57,447.09 L511.08,447.3 L512.58,447.19 L514.09,447.04 L515.59,447.12 L517.1,447.3 L518.6,447.31 L520.1,447.47 L521.61,447.46 L523.11,447.24 L524.62,447.37 L526.12,447.6 L527.63,447.48 L529.13,447.4 L530.63,447.79 L532.14,447.59 L533.64,447.56 L535.15,447.7 L536.65,447.64 L538.15,447.67 L539.66,447.9 L541.16,448.01 L542.67,447.86 L544.17,447.78 L545.67,447.98 L547.18,447.99 L548.68,448.05 L550.19,447.99 L551.69,448.3 L553.19,448.06 L554.7,448.02 L556.2,448.4 L557.71,448.46 L559.21,448.25 L560.71,448.26 L562.22,448.5 L563.72,448.71 L565.23,448.42 L566.73,448.6 L568.23,448.51 L569.74,448.79 L571.24,448.69 L572.75,448.69 L574.25,448.87 L575.75,448.86 L577.26,448.73 L578.76,448.89 L580.27,449.2 L581.77,449.17 L583.27,449.07 L584.78,449.19 L586.28,448.98 L587.79,449.16 L589.29,449.45 L590.79,449.15 L592.3,449.59 L593.8,449.58 L595.3,449.55 L596.81,449.44 L598.31,449.35 L599.82,449.51 L601.32,449.79 L602.82,449.68 L604.33,449.93 L605.83,449.69 L607.33,450.06 L608.84,450.13 L610.34,450.12 L611.84,449.93 L613.34,450 L614.85,449.99 L616.35,450.05 L617.85,450.46 L619.36,450.41 L620.86,450.61 L622.36,450.45 L623.86,450.56 L625.37,450.91 L626.87,451.04 L628.37,450.67 L629.87,451.09 L631.38,451.06 L632.88,450.87 L634.38,451.26 L635.88,451.17 L637.39,451.29 L638.89,451.69 L640.39,451.67 L641.89,451.41 L643.39,451.82 L644.9,451.57 L646.4,452.1 L647.9,452.05" stroke="#109618" stroke-width="2.1"/>
<path d="M71.6,143 L71.72,144.5 L71.84,146 L71.95,147.5 L72.07,149 L72.19,150.5 L72.31,152 L72.42,153.49 L72.54,154.99 L72.66,156.49 L72.77,157.99 L72.89,159.49 L73,160.99 L73.12,162.49 L73.24,163.99 L73.35,165.49 L73.47,166.99 L73.58,168.49 L73.69,169.99 L73.81,171.49 L73.92,172.99 L74.04,174.49 L74.15,175.99 L74.26,177.48 L74.38,178.98 L74.49,180.48 L74.6,181.98 L74.71,183.48 L74.83,184.98 L74.94,186.48 L75.05,187.98 L75.16,189.48 L75.27,190.98 L75.39,192.48 L75.5,193.98 L75.61,195.48 L75.72,196.98 L75.83,198.48 L75.94,199.98 L76.05,201.48 L76.16,202.98 L76.27,204.48 L76.38,205.98 L76.49,207.48 L76.6,208.98 L76.7,210.48 L76.81,211.98 L76.92,213.48 L77.03,214.98 L77.14,216.48 L77.25,217.98 L77.35,219.48 L77.46,220.98 L77.57,222.48 L77.68,223.98 L77.78,225.48 L77.89,226.98 L78,228.48 L78.1,229.98 L78.21,231.48 L78.32,232.98 L78.42,234.48 L78.53,235.98 L78.63,237.48 L78.74,238.98 L78.84,240.48 L78.95,241.98 L79.05,243.48 L79.16,244.98 L79.26,246.48 L79.37,247.98 L79.47,249.48 L79.58,250.98 L79.68,252.48 L79.79,253.98 L79.89,255.48 L79.99,256.98 L80.1,258.48 L80.2,259.98 L80.3,261.48 L80.41,262.98 L80.51,264.48 L80.61,265.98 L80.71,267.48 L80.82,268.98 L80.92,270.48 L81.02,271.98 L81.12,273.48 L81.23,274.98 L81.33,276.48 L81.43,277.98 L81.53,279.48 L81.63,280.98 L81.73,282.48 L81.83,283.98 L81.94,285.48 L82.04,286.98 L82.14,288.48 L82.24,289.98 L82.34,291.48 L82.44,292.98 L82.54,294.48 L82.64,295.98 L82.74,297.48 L82.84,298.99 L82.94,300.49 L83.04,301.99 L83.14,303.49 L83.24,304.99 L83.34,306.49 L83.43,307.99 L83.52,309.49 L83.61,310.99 L83.7,312.49 L83.79,313.99 L83.88,315.49 L83.97,317 L84.05,318.5 L84.14,320 L84.23,321.5 L84.32,323 L84.41,324.5 L84.5,326 L84.6,327.5 L84.7,329.01 L84.8,330.51 L84.9,332 L85.01,333.5 L85.12,335 L85.24,336.5 L85.36,338 L85.48,339.5 L85.61,341 L85.74,342.5 L85.88,344 L86.01,345.49 L86.16,346.99 L86.31,348.49 L86.46,349.99 L86.61,351.48 L86.77,352.98 L86.94,354.47 L87.11,355.97 L87.29,357.46 L87.47,358.95 L87.66,360.44 L87.85,361.93 L88.05,363.42 L88.26,364.91 L88.48,366.4 L88.71,367.89 L88.95,369.38 L89.19,370.86 L89.44,372.35 L89.7,373.83 L89.97,375.31 L90.24,376.79 L90.53,378.27 L90.82,379.75 L91.12,381.22 L91.42,382.69 L91.73,384.15 L92.05,385.62 L92.37,387.11 L92.71,388.59 L93.05,390.09 L93.4,391.58 L93.77,393.06 L94.16,394.54 L94.57,396 L95.01,397.45 L95.47,398.88 L95.95,400.28 L96.47,401.65 L97.02,403 L97.63,404.31 L98.36,405.61 L99.18,406.89 L100.07,408.15 L101.03,409.36 L102.02,410.52 L103.03,411.62 L104.09,412.64 L105.26,413.57 L106.49,414.47 L107.72,415.37 L108.89,416.32 L109.96,417.35 L110.98,418.44 L111.97,419.58 L112.93,420.75 L113.88,421.92 L114.84,423.1 L115.81,424.26 L116.81,425.38 L117.85,426.45 L118.92,427.51 L120,428.56 L121.11,429.6 L122.23,430.62 L123.37,431.62 L124.52,432.58 L125.7,433.51 L126.9,434.39 L128.12,435.23 L129.38,436.05 L130.65,436.85 L131.95,437.63 L133.27,438.38 L134.6,439.11 L135.95,439.8 L137.31,440.45 L138.67,441.07 L140.04,441.65 L141.43,442.2 L142.84,442.73 L144.26,443.23 L145.69,443.7 L147.13,444.17 L148.58,444.61 L150.02,445.12 L151.46,445.24 L152.9,445.69 L154.35,446.33 L155.8,446.67 L157.25,447.29 L158.7,447.41 L160.16,447.85 L161.62,448.08 L163.08,448.63 L164.55,449.2 L166.01,449.17 L167.48,449.74 L168.96,449.72 L170.43,450.36 L171.91,450.44 L173.39,450.5 L174.87,451.08 L176.36,451.38 L177.85,451.24 L179.34,451.45 L180.83,451.73 L182.32,452.06 L183.81,452.48 L185.3,452.62 L186.79,452.53 L188.29,452.56 L189.78,453.01 L191.27,453.16 L192.77,453.15 L194.27,453.48 L195.77,453.81 L197.26,453.54 L198.76,453.76 L200.26,454.16 L201.76,453.94 L203.26,454.05 L204.76,454.2 L206.25,454.62 L207.75,454.42 L209.25,454.52 L210.75,454.91 L212.25,455.09 L213.75,455.18 L215.25,455.11 L216.76,455.43 L218.26,455.12 L219.76,455.32 L221.26,455.33 L222.76,455.47 L224.27,455.35 L225.77,455.37 L227.27,455.83 L228.78,455.54 L230.28,455.67 L231.78,455.92 L233.29,455.64 L234.79,455.69 L236.3,455.81 L237.8,455.58 L239.3,455.56 L240.81,455.87 L242.31,455.73 L243.81,455.57 L245.32,455.65 L246.82,455.84 L248.33,455.84 L249.83,455.68 L251.33,455.5 L252.84,455.78 L254.34,455.41 L255.84,455.66 L257.35,455.3 L258.85,455.66 L260.35,455.53 L261.85,455.34 L263.36,455.24 L264.86,455.25 L266.36,455.22 L267.86,455.08 L269.37,455.07 L270.87,454.64 L272.37,454.73 L273.87,454.83 L275.37,454.54 L276.87,454.75 L278.36,454.36 L279.86,454.09 L281.36,454.32 L282.86,453.87 L284.35,453.81 L285.85,453.72 L287.35,453.72 L288.84,453.1 L290.34,453.45 L291.83,453.07 L293.33,452.74 L294.82,452.55 L296.32,452.93 L297.81,452.74 L299.31,452.22 L300.8,451.88 L302.3,452.32 L303.79,451.23 L305.29,451.11 L306.79,451.41 L308.29,451.36 L309.78,450.56 L311.28,450.6 L312.78,450.32 L314.28,450.37 L315.78,450.17 L317.28,450 L318.78,449.95 L320.28,450.23 L321.78,449.93 L323.29,450.79 L324.79,450.33 L326.3,449.97 L327.8,450.74 L329.31,450.96 L330.81,450.39 L332.31,449.91 L333.81,450.8 L335.31,450.87 L336.81,450.94 L338.31,450.53 L339.8,450.19 L341.3,449.65 L342.79,449.35 L344.29,448.96 L345.79,449.87 L347.29,449.43 L348.79,448.98 L350.29,448.68 L351.79,448.8 L353.29,449.29 L354.8,448.55 L356.3,448.28 L357.8,448.58 L359.3,448.46 L360.8,448.78 L362.31,448.55 L363.81,448.39 L365.31,448.82 L366.81,448.61 L368.32,447.86 L369.82,447.92 L371.32,448.02 L372.82,447.66 L374.33,448.2 L375.83,448.15 L377.33,447.71 L378.84,448.15 L380.34,447.83 L381.84,447.55 L383.34,447.79 L384.85,447.79 L386.35,447.77 L387.85,447.89 L389.36,447.81 L390.86,447.45 L392.36,447.42 L393.87,447.14 L395.37,447.34 L396.87,447.16 L398.38,447.09 L399.88,447.45 L401.38,446.97 L402.89,447 L404.39,447.25 L405.89,447.17 L407.4,447.06 L408.9,447.23 L410.4,446.9 L411.91,446.85 L413.41,446.98 L414.92,446.74 L416.42,447.02 L417.92,447.12 L419.43,447.03 L420.93,447.04 L422.43,446.61 L423.94,446.77 L425.44,446.99 L426.95,446.94 L428.45,446.8 L429.95,446.82 L431.46,446.61 L432.96,446.6 L434.46,446.5 L435.97,446.91 L437.47,446.6 L438.97,446.95 L440.48,446.45 L441.98,446.85 L443.49,446.71 L444.99,446.47 L446.49,446.79 L448,446.81 L449.5,446.81 L451,446.81 L452.51,446.81 L454.01,446.85 L455.52,446.67 L457.02,446.96 L458.52,446.73 L460.03,446.63 L461.53,446.99 L463.03,446.64 L464.54,446.73 L466.04,446.87 L467.55,446.92 L469.05,446.69 L470.55,446.56 L472.06,446.84 L473.56,446.85 L475.06,446.93 L476.57,446.71 L478.07,447 L479.58,446.98 L481.08,447.04 L482.58,446.99 L484.09,446.96 L485.59,446.91 L487.1,447.08 L488.6,446.77 L490.1,447 L491.61,447.08 L493.11,447.08 L494.61,446.77 L496.12,446.88 L497.62,447.2 L499.12,447.13 L500.63,446.83 L502.13,447.01 L503.63,447.19 L505.14,447.23 L506.64,447.08 L508.15,446.9 L509.65,446.98 L511.15,446.9 L512.66,447 L514.16,446.98 L515.66,447.32 L517.17,447.36 L518.67,447.26 L520.17,447.51 L521.68,447.18 L523.18,447.24 L524.68,447.48 L526.19,447.48 L527.69,447.31 L529.19,447.74 L530.7,447.64 L532.2,447.67 L533.7,447.59 L535.21,447.75 L536.71,447.53 L538.21,447.68 L539.72,447.89 L541.22,447.92 L542.72,447.92 L544.23,447.73 L545.73,447.91 L547.23,448.28 L548.74,448.3 L550.24,448.29 L551.74,447.95 L553.25,448 L554.75,448.11 L556.25,448.46 L557.75,448.19 L559.26,448.24 L560.76,448.3 L562.26,448.58 L563.77,448.52 L565.27,448.72 L566.77,448.37 L568.28,448.4 L569.78,448.84 L571.28,448.52 L572.79,448.86 L574.29,448.85 L575.79,448.69 L577.3,448.77 L578.8,449.05 L580.3,448.73 L581.81,449.25 L583.31,448.84 L584.81,448.94 L586.32,449.23 L587.82,449.01 L589.32,449.5 L590.82,449.27 L592.33,449.14 L593.83,449.24 L595.33,449.48 L596.84,449.69 L598.34,449.44 L599.84,449.56 L601.34,449.7 L602.85,449.8 L604.35,449.89 L605.85,449.75 L607.35,449.83 L608.86,450.14 L610.36,450.22 L611.86,450.04 L613.36,450.39 L614.87,450.04 L616.37,450.43 L617.87,450.55 L619.37,450.44 L620.87,450.58 L622.38,450.34 L623.88,450.81 L625.38,450.8 L626.88,450.83 L628.38,450.91 L629.88,450.78 L631.39,451.2 L632.89,451.13 L634.39,451.25 L635.89,451.12 L637.39,451.43 L638.89,451.33 L640.39,451.68 L641.9,451.4 L643.4,451.54 L644.9,451.67 L646.4,451.86 L647.9,452.19" stroke="#ff8010" stroke-width="2.1"/>
</g>
<rect x="71.3" y="33.7" width="576.6" height="426.2" fill="none" stroke="#000" stroke-width="2.3"/>
<path d="M85.72,459.9 v-4 M85.72,33.7 v4 M100.13,459.9 v-4 M100.13,33.7 v4 M114.54,459.9 v-4 M114.54,33.7 v4 M128.96,459.9 v-4 M128.96,33.7 v4 M143.38,459.9 v-7.5 M143.38,33.7 v7.5 M157.79,459.9 v-4 M157.79,33.7 v4 M172.2,459.9 v-4 M172.2,33.7 v4 M186.62,459.9 v-4 M186.62,33.7 v4 M201.04,459.9 v-4 M201.04,33.7 v4 M215.45,459.9 v-7.5 M215.45,33.7 v7.5 M229.87,459.9 v-4 M229.87,33.7 v4 M244.28,459.9 v-4 M244.28,33.7 v4 M258.69,459.9 v-4 M258.69,33.7 v4 M273.11,459.9 v-4 M273.11,33.7 v4 M287.52,459.9 v-7.5 M287.52,33.7 v7.5 M301.94,459.9 v-4 M301.94,33.7 v4 M316.36,459.9 v-4 M316.36,33.7 v4 M330.77,459.9 v-4 M330.77,33.7 v4 M345.19,459.9 v-4 M345.19,33.7 v4 M359.6,459.9 v-7.5 M359.6,33.7 v7.5 M374.01,459.9 v-4 M374.01,33.7 v4 M388.43,459.9 v-4 M388.43,33.7 v4 M402.85,459.9 v-4 M402.85,33.7 v4 M417.26,459.9 v-4 M417.26,33.7 v4 M431.68,459.9 v-7.5 M431.68,33.7 v7.5 M446.09,459.9 v-4 M446.09,33.7 v4 M460.5,459.9 v-4 M460.5,33.7 v4 M474.92,459.9 v-4 M474.92,33.7 v4 M489.34,459.9 v-4 M489.34,33.7 v4 M503.75,459.9 v-7.5 M503.75,33.7 v7.5 M518.16,459.9 v-4 M518.16,33.7 v4 M532.58,459.9 v-4 M532.58,33.7 v4 M547,459.9 v-4 M547,33.7 v4 M561.41,459.9 v-4 M561.41,33.7 v4 M575.82,459.9 v-7.5 M575.82,33.7 v7.5 M590.24,459.9 v-4 M590.24,33.7 v4 M604.65,459.9 v-4 M604.65,33.7 v4 M619.07,459.9 v-4 M619.07,33.7 v4 M633.48,459.9 v-4 M633.48,33.7 v4 M71.3,417.28 h4 M647.9,417.28 h-4 M71.3,374.66 h7.5 M647.9,374.66 h-7.5 M71.3,332.04 h4 M647.9,332.04 h-4 M71.3,289.42 h7.5 M647.9,289.42 h-7.5 M71.3,246.8 h4 M647.9,246.8 h-4 M71.3,204.18 h7.5 M647.9,204.18 h-7.5 M71.3,161.56 h4 M647.9,161.56 h-4 M71.3,118.94 h7.5 M647.9,118.94 h-7.5 M71.3,76.32 h4 M647.9,76.32 h-4" stroke="#000" stroke-width="1.9" fill="none"/>
<g class="tk" text-anchor="middle">
<text x="71.3" y="482.3">300</text>
<text x="143.38" y="482.3">450</text>
<text x="215.45" y="482.3">600</text>
<text x="287.52" y="482.3">750</text>
<text x="359.6" y="482.3">900</text>
<text x="431.68" y="482.3">1050</text>
<text x="503.75" y="482.3">1200</text>
<text x="575.82" y="482.3">1350</text>
<text x="647.9" y="482.3">1500</text>
</g>
<g class="tk" text-anchor="end">
<text x="61.8" y="464.5">0</text>
<text x="61.8" y="379.26">20</text>
<text x="61.8" y="294.02">40</text>
<text x="61.8" y="208.78">60</text>
<text x="61.8" y="123.54">80</text>
<text x="61.8" y="38.3">100</text>
</g>
<text class="ax" style="font-size:21.5px" transform="translate(29.8 235.2) rotate(-90)" text-anchor="middle">T, R or A / %</text>
<text class="ax" x="313.2" y="508.6"><tspan class="sym" font-size="23">&#955;</tspan><tspan dx="2.2"> / nm</tspan></text>
<text x="262.2" y="70.6" font-size="20" text-anchor="middle">T</text>
<text x="260.6" y="413.4" font-size="20" text-anchor="middle">R</text>
<text x="260.8" y="448.4" font-size="20" text-anchor="middle">A</text>
<text font-size="33.5" stroke-width="0.8" x="0.5" y="26.2">A</text>
<text transform="translate(24.0 26.4) scale(0.8 1)" stroke-width="0.9" font-size="35">)</text>
<rect x="250.6" y="167.1" width="369.4" height="135.3" fill="#fff" stroke="#6e6e6e" stroke-width="1"/>
<path d="M252.9,184 h47.6" stroke="#ff1414" stroke-width="1.9" fill="none"/>
<text class="lg" x="305.8" y="190.5">P<tspan font-size="14.2" dy="6">chamber</tspan><tspan dy="-6"> = 5 x 10</tspan><tspan font-size="14" dy="-7.4">-3</tspan><tspan dy="7.4"> mbar; 40% O</tspan><tspan font-size="14" dy="6">2</tspan></text>
<path d="M252.9,217.4 h47.6" stroke="#1414ff" stroke-width="1.9" fill="none"/>
<text class="lg" x="305.8" y="223.9">P<tspan font-size="14.2" dy="6">chamber</tspan><tspan dy="-6"> = 5 x 10</tspan><tspan font-size="14" dy="-7.4">-3</tspan><tspan dy="7.4"> mbar; 70% O</tspan><tspan font-size="14" dy="6">2</tspan></text>
<path d="M252.9,250.8 h47.6" stroke="#109618" stroke-width="1.9" fill="none"/>
<text class="lg" x="305.8" y="257.3">P<tspan font-size="14.2" dy="6">chamber</tspan><tspan dy="-6"> = 5 x 10</tspan><tspan font-size="14" dy="-7.4">-3</tspan><tspan dy="7.4"> mbar; 100% O</tspan><tspan font-size="14" dy="6">2</tspan></text>
<path d="M252.9,284.2 h47.6" stroke="#ff8010" stroke-width="1.9" fill="none"/>
<text class="lg" x="305.8" y="290.7">P<tspan font-size="14.2" dy="6">chamber</tspan><tspan dy="-6"> = 8 x 10</tspan><tspan font-size="14" dy="-7.4">-3</tspan><tspan dy="7.4"> mbar; 100% O</tspan><tspan font-size="14" dy="6">2</tspan></text>
</g>
<g id="panelB">
<g fill="none">
<path d="M515.7,989.2 L633.8,528.1" stroke="#ff1414" stroke-width="0.85" stroke-dasharray="1.1 1.3"/>
<path d="M530.6,989.2 L626.5,529.5" stroke="#1414ff" stroke-width="0.85" stroke-dasharray="1.1 1.3"/>
<path d="M537.9,989.2 L633.3,529.5" stroke="#109618" stroke-width="0.85" stroke-dasharray="1.1 1.3"/>
<path d="M543.6,989.2 L623.3,528.1" stroke="#ff8010" stroke-width="0.85" stroke-dasharray="1.1 1.3"/>
</g>
<g clip-path="url(#clipB)" fill="none" stroke-linejoin="round">
<path d="M72.7,976.6 L78.96,976.44 L85.21,976.26 L91.47,976.06 L97.72,975.85 L103.97,975.62 L110.23,975.38 L116.48,975.13 L122.73,974.87 L128.98,974.6 L135.23,974.31 L141.48,973.99 L147.73,973.64 L153.97,973.29 L160.22,972.93 L166.47,972.56 L172.71,972.19 L178.96,971.8 L185.21,971.42 L191.45,971.03 L197.7,970.66 L203.94,970.3 L210.19,969.94 L216.44,969.59 L222.69,969.23 L228.93,968.86 L235.18,968.47 L241.42,968.06 L247.66,967.62 L253.9,967.16 L260.14,966.65 L266.37,966.11 L272.61,965.53 L278.83,964.92 L285.05,964.26 L291.27,963.56 L297.49,962.82 L303.7,962.06 L309.91,961.27 L316.11,960.46 L322.31,959.61 L328.5,958.72 L334.69,957.81 L340.88,956.86 L347.06,955.88 L353.23,954.86 L359.4,953.8 L388.6,946.8 L420.1,936.1 L452.5,918.7 L485.6,891 L519.8,849 L554.9,782.4 L567.1,750 L592.8,676 L625.2,555.7 L640,500" stroke="#ff1414" stroke-width="2.0"/>
<path d="M72.7,977.7 L78.95,977.57 L85.19,977.43 L91.44,977.27 L97.69,977.11 L103.94,976.94 L110.18,976.77 L116.43,976.59 L122.67,976.4 L128.92,976.2 L135.16,976 L141.41,975.77 L147.65,975.54 L153.9,975.3 L160.14,975.06 L166.38,974.82 L172.63,974.57 L178.87,974.33 L185.12,974.08 L191.36,973.83 L197.6,973.58 L203.85,973.35 L210.1,973.12 L216.34,972.89 L222.59,972.65 L228.83,972.41 L235.07,972.14 L241.31,971.85 L247.55,971.52 L253.79,971.15 L260.02,970.7 L266.25,970.21 L272.48,969.7 L278.71,969.17 L284.93,968.62 L291.15,968.03 L297.37,967.43 L303.59,966.79 L309.8,966.14 L316.01,965.45 L322.22,964.73 L328.42,963.97 L334.62,963.19 L340.82,962.39 L347.02,961.59 L353.21,960.75 L359.4,959.9 L388.6,954.4 L420.1,945.1 L452.5,929.2 L485.6,903 L519.8,859.5 L555.7,788.4 L570.6,750 L592.8,674 L620.3,555.7 L633,500" stroke="#1414ff" stroke-width="2.0"/>
<path d="M72.7,979.9 L78.94,979.81 L85.18,979.72 L91.42,979.63 L97.66,979.53 L103.9,979.43 L110.14,979.33 L116.38,979.22 L122.61,979.11 L128.85,979 L135.09,978.89 L141.33,978.76 L147.57,978.64 L153.81,978.51 L160.05,978.38 L166.29,978.25 L172.53,978.12 L178.76,977.99 L185,977.85 L191.24,977.72 L197.48,977.58 L203.72,977.44 L209.96,977.3 L216.2,977.15 L222.43,977.01 L228.67,976.86 L234.91,976.71 L241.15,976.56 L247.39,976.41 L253.63,976.27 L259.87,976.14 L266.11,975.99 L272.34,975.82 L278.58,975.6 L284.81,975.3 L291.04,974.92 L297.26,974.49 L303.49,974.04 L309.71,973.57 L315.93,973.1 L322.16,972.61 L328.37,972.08 L334.59,971.52 L340.8,970.92 L347,970.27 L353.2,969.56 L359.4,968.8 L388.6,964.2 L420.1,957.1 L452.5,943 L485.6,919.6 L519.8,878.4 L555.7,805.4 L573,750 L593.5,676 L617.9,555.7 L629,500" stroke="#ff8010" stroke-width="2.0"/>
<path d="M72.7,978.9 L78.94,978.83 L85.18,978.74 L91.42,978.63 L97.67,978.52 L103.91,978.39 L110.15,978.25 L116.39,978.11 L122.63,977.96 L128.87,977.8 L135.1,977.62 L141.34,977.41 L147.58,977.19 L153.82,976.97 L160.06,976.77 L166.3,976.59 L172.54,976.42 L178.78,976.25 L185.02,976.09 L191.26,975.92 L197.5,975.76 L203.74,975.6 L209.98,975.44 L216.22,975.29 L222.46,975.14 L228.7,974.97 L234.93,974.8 L241.17,974.62 L247.41,974.42 L253.65,974.2 L259.89,973.96 L266.12,973.69 L272.36,973.39 L278.59,973.06 L284.82,972.67 L291.05,972.24 L297.27,971.78 L303.5,971.29 L309.72,970.79 L315.94,970.27 L322.16,969.73 L328.37,969.15 L334.58,968.55 L340.79,967.92 L347,967.25 L353.2,966.54 L359.4,965.8 L388.6,961 L420.1,954.1 L452.5,939.7 L485.6,917.5 L519.8,877.5 L556.3,806.8 L576.5,750 L596.5,680 L627.9,555.7 L642,500" stroke="#109618" stroke-width="2.0"/>
</g>
<rect x="72.7" y="555.7" width="576" height="426.3" fill="none" stroke="#000" stroke-width="2.3"/>
<path d="M84.22,982 v-4 M84.22,555.7 v4 M107.26,982 v-4 M107.26,555.7 v4 M130.3,982 v-7.5 M130.3,555.7 v7.5 M153.34,982 v-4 M153.34,555.7 v4 M176.38,982 v-4 M176.38,555.7 v4 M199.42,982 v-4 M199.42,555.7 v4 M222.46,982 v-4 M222.46,555.7 v4 M245.5,982 v-7.5 M245.5,555.7 v7.5 M268.54,982 v-4 M268.54,555.7 v4 M291.58,982 v-4 M291.58,555.7 v4 M314.62,982 v-4 M314.62,555.7 v4 M337.66,982 v-4 M337.66,555.7 v4 M360.7,982 v-7.5 M360.7,555.7 v7.5 M383.74,982 v-4 M383.74,555.7 v4 M406.78,982 v-4 M406.78,555.7 v4 M429.82,982 v-4 M429.82,555.7 v4 M452.86,982 v-4 M452.86,555.7 v4 M475.9,982 v-7.5 M475.9,555.7 v7.5 M498.94,982 v-4 M498.94,555.7 v4 M521.98,982 v-4 M521.98,555.7 v4 M545.02,982 v-4 M545.02,555.7 v4 M568.06,982 v-4 M568.06,555.7 v4 M591.1,982 v-7.5 M591.1,555.7 v7.5 M614.14,982 v-4 M614.14,555.7 v4 M637.18,982 v-4 M637.18,555.7 v4 M72.7,928.71 h4 M648.7,928.71 h-4 M72.7,875.42 h7.5 M648.7,875.42 h-7.5 M72.7,822.14 h4 M648.7,822.14 h-4 M72.7,768.85 h7.5 M648.7,768.85 h-7.5 M72.7,715.56 h4 M648.7,715.56 h-4 M72.7,662.28 h7.5 M648.7,662.28 h-7.5 M72.7,608.99 h4 M648.7,608.99 h-4" stroke="#000" stroke-width="1.9" fill="none"/>
<g class="tk" text-anchor="middle">
<text x="130.3" y="1004.4">3.2</text>
<text x="245.5" y="1004.4">3.4</text>
<text x="360.7" y="1004.4">3.6</text>
<text x="475.9" y="1004.4">3.8</text>
<text x="591.1" y="1004.4">4.0</text>
</g>
<g class="tk" text-anchor="end">
<text x="62.8" y="986.4">0.0</text>
<text x="62.8" y="879.82">0.5</text>
<text x="62.8" y="773.25">1.0</text>
<text x="62.8" y="666.68">1.5</text>
<text x="62.8" y="560.1">2.0</text>
</g>
<text class="ax" transform="translate(34.2 841.4) rotate(-90)">(<tspan class="sym" font-size="23.5" letter-spacing="0.9">&#945;h&#957;</tspan>)<tspan font-size="14" dy="-7.4">2</tspan><tspan dy="7.4"> / 10</tspan><tspan font-size="14" dy="-7.4">11</tspan><tspan dy="7.4"> cm</tspan><tspan font-size="14" dy="-7.4">-2</tspan></text>
<text class="ax" x="312" y="1031.4"><tspan class="sym" font-size="23.5" letter-spacing="1.6">h&#957;</tspan><tspan dx="-1.5"> / eV</tspan></text>
<text transform="translate(1.9 554.5) scale(0.84 1)" stroke-width="0.8" font-size="33.2">B</text>
<text transform="translate(24.0 554.6) scale(0.8 1)" stroke-width="0.9" font-size="35">)</text>
<rect x="93.5" y="570.5" width="370.5" height="134.5" fill="#fff" stroke="#6e6e6e" stroke-width="1"/>
<path d="M95.8,587.4 h47.6" stroke="#ff1414" stroke-width="1.9" fill="none"/>
<text class="lg" x="148.7" y="593.9">P<tspan font-size="14.2" dy="6">chamber</tspan><tspan dy="-6"> = 5 x 10</tspan><tspan font-size="14" dy="-7.4">-3</tspan><tspan dy="7.4"> mbar; 40% O</tspan><tspan font-size="14" dy="6">2</tspan></text>
<path d="M95.8,620.8 h47.6" stroke="#1414ff" stroke-width="1.9" fill="none"/>
<text class="lg" x="148.7" y="627.3">P<tspan font-size="14.2" dy="6">chamber</tspan><tspan dy="-6"> = 5 x 10</tspan><tspan font-size="14" dy="-7.4">-3</tspan><tspan dy="7.4"> mbar; 70% O</tspan><tspan font-size="14" dy="6">2</tspan></text>
<path d="M95.8,654.2 h47.6" stroke="#109618" stroke-width="1.9" fill="none"/>
<text class="lg" x="148.7" y="660.7">P<tspan font-size="14.2" dy="6">chamber</tspan><tspan dy="-6"> = 5 x 10</tspan><tspan font-size="14" dy="-7.4">-3</tspan><tspan dy="7.4"> mbar; 100% O</tspan><tspan font-size="14" dy="6">2</tspan></text>
<path d="M95.8,687.6 h47.6" stroke="#ff8010" stroke-width="1.9" fill="none"/>
<text class="lg" x="148.7" y="694.1">P<tspan font-size="14.2" dy="6">chamber</tspan><tspan dy="-6"> = 8 x 10</tspan><tspan font-size="14" dy="-7.4">-3</tspan><tspan dy="7.4"> mbar; 100% O</tspan><tspan font-size="14" dy="6">2</tspan></text>
</g>
</svg></body></html>
